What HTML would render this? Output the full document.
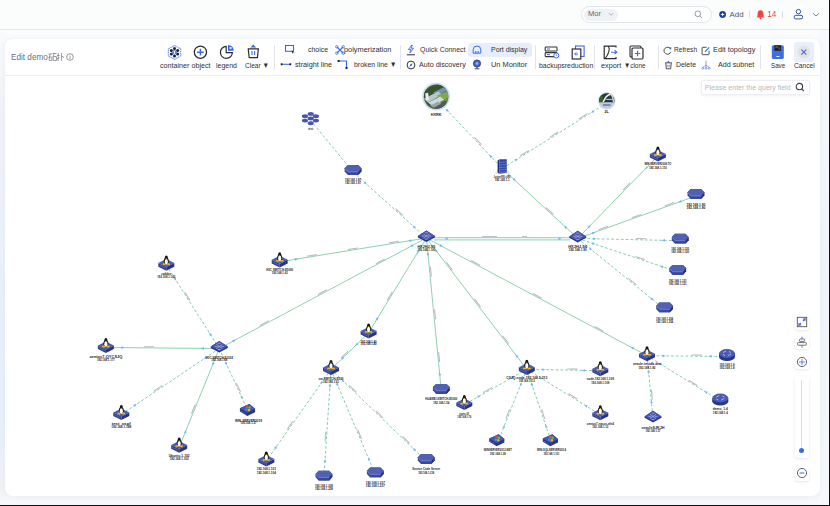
<!DOCTYPE html>
<html><head><meta charset="utf-8">
<style>
*{box-sizing:border-box}
html,body{margin:0;padding:0}
body{width:830px;height:506px;overflow:hidden;position:relative;background:linear-gradient(180deg,#fbfdfd 0px,#fafcfd 32px,#f6f9fb 50px,#eef3f9 120px,#eaf0f8 300px,#e8eff8 420px,#eef2f6 485px,#f6f8fa 505px);font-family:"Liberation Sans",sans-serif;color:#333}
.a{position:absolute}
.t{position:absolute;font-size:7px;line-height:8px;white-space:nowrap;color:#303030}
.sep{position:absolute;width:1px;background:#e3e5e8}
#hdr{position:absolute;left:0;top:0;width:830px;height:30px;background:#fbfdfd;border-bottom:1px solid #e3e7e8}
#card{position:absolute;left:5px;top:39px;width:815px;height:457px;background:#fff;border-radius:8px;box-shadow:0 0 6px rgba(30,60,110,0.05)}
#tb{position:absolute;left:0;top:0;width:815px;height:37px;border-bottom:1px solid #eceef1}
.btn{position:absolute;background:#fff;border-radius:3px;box-shadow:0 1px 3px rgba(0,0,0,0.10)}
</style></head><body>
<div id="hdr">
  <div class="a" style="left:581px;top:6px;width:131px;height:17px;border:1px solid #e1e4e8;border-radius:9px;background:#fff"></div>
  <div class="a" style="left:584px;top:9px;width:34px;height:12px;border-radius:6px;background:#eef1f5"></div>
  <div class="t" style="left:588px;top:10.2px;font-size:7.6px;color:#62666d">Mor</div>
  <svg class="a" style="left:607.5px;top:12px" width="6" height="5"><path d="M1,1.2 L3,3.2 L5,1.2" stroke="#9aa0a8" stroke-width="0.8" fill="none"/></svg>
  <svg class="a" style="left:694px;top:10px" width="9" height="9"><circle cx="3.8" cy="3.8" r="2.8" stroke="#8a8f96" stroke-width="0.9" fill="none"/><path d="M5.9,5.9 L8,8" stroke="#8a8f96" stroke-width="0.9"/></svg>
  <svg class="a" style="left:718px;top:10px" width="9" height="9"><circle cx="4.6" cy="4.5" r="3.4" fill="#1b3fae"/><path d="M2.9,4.5 H6.3 M4.6,2.8 V6.2" stroke="#fff" stroke-width="0.9"/></svg>
  <div class="t" style="left:729.5px;top:10.5px;font-size:7.9px;color:#55595f">Add</div>
  <div class="sep" style="left:749px;top:11px;height:7px;background:#dcdfe3"></div>
  <svg class="a" style="left:755px;top:9px" width="11" height="11"><path d="M5.5,1.2 C3.2,1.2 2.6,3.2 2.6,5 L2.4,7.6 L1.4,8.6 H9.6 L8.6,7.6 L8.4,5 C8.4,3.2 7.8,1.2 5.5,1.2 Z" fill="#f2433c"/><circle cx="5.5" cy="9.3" r="1" fill="#f2433c"/></svg>
  <div class="t" style="left:767.3px;top:11px;font-size:8.2px;color:#f2433c">14</div>
  <div class="sep" style="left:782px;top:11px;height:7px;background:#dcdfe3"></div>
  <div class="a" style="left:789.5px;top:5.8px;width:17.5px;height:17.5px;border-radius:50%;background:#fff"></div>
  <svg class="a" style="left:792px;top:8px" width="13" height="13"><circle cx="6.4" cy="3.6" r="2.2" stroke="#2a4ec2" stroke-width="1" fill="none"/><rect x="2.2" y="7.3" width="8.4" height="3.6" rx="1.6" stroke="#2a4ec2" stroke-width="1" fill="none"/></svg>
  <svg class="a" style="left:812px;top:12px" width="8" height="6"><path d="M1,1.3 L4,4 L7,1.3" stroke="#777" stroke-width="0.9" fill="none"/></svg>
</div>

<div class="a" style="left:819px;top:30px;width:10px;height:475px;background:linear-gradient(180deg,#f7f9fb 0px,#f3f6fb 110px,#eff4fb 240px,#f2f6fa 380px,#f6f8fa 475px)"></div>
<div id="card">
 <div id="tb"></div>
</div>

<!-- toolbar (page coordinates) -->
<div class="t" style="left:11px;top:51.5px;font-size:9.5px;line-height:10px;color:#6b6f76;transform:scaleX(0.86);transform-origin:0 0">Edit demo</div>
<svg class="a" style="left:47.8px;top:52px" width="28" height="10">
 <g stroke="#6a6e75" stroke-width="0.7" fill="none">
  <path d="M0.5,2 H4 M2.2,2 L1,6 M1.2,5 H3.8 V8.5 H1.2 Z M4.6,1.5 H8.6 M6.2,1.5 L5,4.5 M5.2,4.5 H8.4 V8.6 H5.2 Z"/>
  <path d="M10.2,1 V9 M9,3.5 H11.6 M9,7 L11.6,5.6 M13.6,1 V9 M13.6,4 L16,5.5"/>
 </g>
 <circle cx="22" cy="5" r="3.3" stroke="#6a6e75" stroke-width="0.7" fill="none"/>
 <path d="M22,4.2 V7 M22,2.9 V3.5" stroke="#6a6e75" stroke-width="0.7"/>
</svg>

<!-- big icons group 1 -->
<svg class="a" style="left:166px;top:43.5px" width="17" height="17">
 <path d="M8.5,1.4 L14.6,4.9 L14.6,11.9 L8.5,15.4 L2.4,11.9 L2.4,4.9 Z" stroke="#7fa2ee" stroke-width="1.3" fill="none" stroke-dasharray="1.6 0.6"/>
 <g fill="#1f2126"><circle cx="8.5" cy="4.6" r="1.5"/><circle cx="11.6" cy="6.5" r="1.5"/><circle cx="11.6" cy="10.1" r="1.5"/><circle cx="8.5" cy="12" r="1.5"/><circle cx="5.4" cy="10.1" r="1.5"/><circle cx="5.4" cy="6.5" r="1.5"/></g>
 <circle cx="8.5" cy="8.3" r="2.4" fill="#4f7fe6"/>
 <rect x="7.9" y="6.9" width="1.2" height="2.8" fill="#fff"/>
</svg>
<svg class="a" style="left:193px;top:44.5px" width="15" height="15"><circle cx="7.4" cy="7.2" r="6.1" stroke="#2b2d33" stroke-width="1.3" fill="none"/><path d="M4,7.2 H10.8 M7.4,3.8 V10.6" stroke="#3b6ae8" stroke-width="1.5"/></svg>
<svg class="a" style="left:219px;top:44px" width="16" height="16"><path d="M7.2,2.4 A6,6 0 1 0 13.4,8.6 L7.2,8.6 Z" stroke="#2b2d33" stroke-width="1.2" fill="none"/><path d="M9,0.9 A5.8,5.8 0 0 1 14.8,6.7 L9,6.7 Z" fill="#3b6ae8"/><rect x="10.6" y="3.2" width="2" height="1.6" fill="#fff"/></svg>
<svg class="a" style="left:246px;top:44px" width="15" height="15"><path d="M2.2,4.8 H12.4 L11.4,13.6 H3.2 Z" stroke="#2b2d33" stroke-width="1.2" fill="none" stroke-linejoin="round"/><path d="M4.4,3.6 L7.3,0.6 L10.2,3.6 Z" fill="#3b6ae8"/><path d="M6,7 V11 M8.6,7 V11" stroke="#3b6ae8" stroke-width="1.1"/></svg>
<div class="t" style="left:159.7px;top:61.5px;font-size:7.9px;transform:scaleX(0.9071);transform-origin:0 0">container object</div>
<div class="t" style="left:216px;top:61.5px;font-size:7.9px;transform:scaleX(0.8852);transform-origin:0 0">legend</div>
<div class="t" style="left:245px;top:61.8px;font-size:7.9px;transform:scaleX(0.8305);transform-origin:0 0">Clear ▼</div>
<div class="sep" style="left:274px;top:45px;height:24px"></div>

<!-- group 2 -->
<svg class="a" style="left:284px;top:44px" width="12" height="11"><rect x="1.5" y="1.5" width="8" height="5.8" stroke="#3b6ae8" stroke-width="1.1" fill="none"/><path d="M7.6,6.4 L10.6,8.2 L9,8.6 L8.6,10 Z" fill="#222"/></svg>
<div class="t" style="left:308px;top:45.5px;font-size:7.9px;transform:scaleX(0.8757);transform-origin:0 0">choice</div>
<svg class="a" style="left:335px;top:44.5px" width="10" height="10"><path d="M2,2 L8,8 M8,2 L2,8" stroke="#3b6ae8" stroke-width="1.1"/><g fill="none" stroke="#3b6ae8" stroke-width="0.8"><circle cx="1.8" cy="1.8" r="1.2"/><circle cx="8.2" cy="1.8" r="1.2"/><circle cx="1.8" cy="8.2" r="1.2"/><circle cx="8.2" cy="8.2" r="1.2"/></g></svg>
<div class="t" style="left:344px;top:45.5px;font-size:7.9px;transform:scaleX(0.9325);transform-origin:0 0">polymerization</div>
<svg class="a" style="left:280px;top:60px" width="12" height="8"><path d="M1.5,4.3 H10" stroke="#3b6ae8" stroke-width="1.1"/><rect x="0.7" y="3.3" width="1.8" height="2" fill="#222"/><rect x="9.4" y="3.3" width="1.8" height="2" fill="#222"/></svg>
<div class="t" style="left:295.3px;top:61.2px;font-size:7.9px;transform:scaleX(0.9183);transform-origin:0 0">straight line</div>
<svg class="a" style="left:337px;top:59px" width="12" height="11"><path d="M1.5,2 H9.5 V9" stroke="#3b6ae8" stroke-width="1.2" fill="none"/><rect x="0.6" y="1" width="2" height="2" fill="#222"/><rect x="8.5" y="8" width="2" height="2" fill="#222"/></svg>
<div class="t" style="left:353.8px;top:61.2px;font-size:7.9px;transform:scaleX(0.8773);transform-origin:0 0">broken line ▼</div>
<div class="sep" style="left:400px;top:45px;height:24px"></div>

<!-- group 3 -->
<svg class="a" style="left:406px;top:43.5px" width="10" height="12"><path d="M5.8,1 L2.4,5.6 H5 L3.8,9 L7.6,4.2 H5 L6.4,1 Z" stroke="#3b6ae8" stroke-width="0.9" fill="none" stroke-linejoin="round"/><path d="M0.8,10.8 H9" stroke="#333" stroke-width="1"/></svg>
<div class="t" style="left:420px;top:45.5px;font-size:7.9px;transform:scaleX(0.8781);transform-origin:0 0">Quick Connect</div>
<svg class="a" style="left:406px;top:59.5px" width="10" height="10"><circle cx="5" cy="5" r="3.9" stroke="#333" stroke-width="1" fill="none"/><path d="M6.8,3.2 L5.6,5.8 L3.2,6.8 L4.4,4.2 Z" fill="#3b6ae8"/></svg>
<div class="t" style="left:419px;top:61.2px;font-size:7.9px;transform:scaleX(0.9032);transform-origin:0 0">Auto discovery</div>
<div class="a" style="left:468px;top:42.5px;width:64px;height:14.5px;border-radius:3px;background:#e7eefb"></div>
<svg class="a" style="left:472px;top:44.5px" width="10" height="10"><path d="M1.2,8.2 V4.8 A3.8,3.8 0 0 1 8.8,4.8 V8.2 Z" stroke="#3b6ae8" stroke-width="1" fill="none"/><path d="M3.5,8 V6 M5,8 V6 M6.5,8 V6" stroke="#3b6ae8" stroke-width="0.7"/></svg>
<div class="t" style="left:490.6px;top:45.5px;font-size:7.9px;transform:scaleX(0.8818);transform-origin:0 0">Port display</div>
<svg class="a" style="left:472px;top:59px" width="10" height="11"><circle cx="5" cy="4.5" r="3.6" fill="#3b6ae8" stroke="#333" stroke-width="0.8"/><circle cx="5" cy="4.5" r="1.3" fill="#9cb6f2"/><path d="M5,8 V9.4 M2.6,9.8 H7.4" stroke="#333" stroke-width="0.9"/></svg>
<div class="t" style="left:490.8px;top:61.2px;font-size:7.9px;transform:scaleX(0.9369);transform-origin:0 0">Un Monitor</div>
<div class="sep" style="left:535px;top:45px;height:24px"></div>

<!-- group 4 -->
<svg class="a" style="left:544px;top:46px" width="16" height="13"><rect x="1.2" y="1" width="11.8" height="4" rx="0.8" stroke="#333" stroke-width="1.1" fill="none"/><rect x="1.2" y="6.6" width="11.8" height="4" rx="0.8" stroke="#333" stroke-width="1.1" fill="none"/><path d="M3,3 H6 M3,8.6 H6" stroke="#3b6ae8" stroke-width="1"/><circle cx="12.3" cy="9.5" r="2.5" fill="#fff" stroke="#3b6ae8" stroke-width="1"/><path d="M12.3,8.3 V9.6 H13.3" stroke="#3b6ae8" stroke-width="0.7" fill="none"/></svg>
<svg class="a" style="left:571px;top:44.5px" width="15" height="15"><rect x="4.5" y="1" width="8.6" height="10.4" stroke="#3b6ae8" stroke-width="1.1" fill="none"/><rect x="1.2" y="4" width="8.6" height="10" fill="#fff" stroke="#2b2d33" stroke-width="1.2"/><path d="M7,9 H3.8 M5.2,7.4 L3.6,9 L5.2,10.6" stroke="#3b6ae8" stroke-width="1" fill="none"/></svg>
<div class="t" style="left:538.8px;top:61.5px;font-size:7.9px;transform:scaleX(0.8784);transform-origin:0 0">backupsreduction</div>
<div class="sep" style="left:594px;top:45px;height:24px"></div>

<svg class="a" style="left:603px;top:44.5px" width="16" height="15"><path d="M13,2.5 V1.2 H1.2 V13.6 H13 V12" stroke="#2b2d33" stroke-width="1.2" fill="none"/><path d="M5.4,1.2 C7,4 6,9 2.2,13.4" stroke="#2b2d33" stroke-width="1.1" fill="none"/><path d="M8,7.2 H13.6 M11.6,5.2 L13.8,7.2 L11.6,9.2" stroke="#3b6ae8" stroke-width="1.1" fill="none"/></svg>
<svg class="a" style="left:629px;top:44.5px" width="16" height="15"><rect x="1" y="1" width="11" height="11" rx="1.2" stroke="#2b2d33" stroke-width="1.1" fill="none"/><rect x="3" y="3" width="11" height="11" rx="1.2" fill="#fff" stroke="#2b2d33" stroke-width="1.2"/><path d="M5.7,8.5 H11.3 M8.5,5.7 V11.3" stroke="#3b6ae8" stroke-width="1.2"/></svg>
<div class="t" style="left:600.8px;top:62.4px;font-size:7.9px;transform:scaleX(0.9198);transform-origin:0 0">export</div>
<div class="t" style="left:624px;top:62px;font-size:7.9px;transform:scaleX(0.8049);transform-origin:0 0">▼clone</div>
<div class="sep" style="left:658px;top:45px;height:24px"></div>

<!-- group 5 -->
<svg class="a" style="left:663px;top:45.5px" width="9" height="9"><path d="M7.4,2.8 A3.5,3.5 0 1 0 7.8,5.8" stroke="#3a3c42" stroke-width="0.9" fill="none"/><path d="M5.6,1.6 L8.4,1.2 L8,4 Z" fill="#3b6ae8"/></svg>
<div class="t" style="left:673.6px;top:45.7px;font-size:7.9px;transform:scaleX(0.8350);transform-origin:0 0">Refresh</div>
<svg class="a" style="left:700.5px;top:45.5px" width="10" height="10"><path d="M5.6,1.3 H1.6 A0.5,0.5 0 0 0 1.1,1.8 V8.2 A0.5,0.5 0 0 0 1.6,8.7 H7.6 A0.5,0.5 0 0 0 8.1,8.2 V4.6" stroke="#3a3c42" stroke-width="0.9" fill="none"/><path d="M4,5.8 L8.2,1.4" stroke="#3b6ae8" stroke-width="1.2"/></svg>
<div class="t" style="left:713.4px;top:45.7px;font-size:7.9px;transform:scaleX(0.9281);transform-origin:0 0">Edit topology</div>
<svg class="a" style="left:664px;top:60px" width="9" height="10"><path d="M3,2.4 L4.5,0.8 L6,2.4 Z" fill="#3b6ae8"/><path d="M1.2,2.8 H7.8 M1.8,3 L2.3,8.8 H6.7 L7.2,3" stroke="#3a3c42" stroke-width="0.9" fill="none"/><path d="M3.8,4.8 V7.2 M5.2,4.8 V7.2" stroke="#3b6ae8" stroke-width="0.7"/></svg>
<div class="t" style="left:675.7px;top:61.2px;font-size:7.9px;transform:scaleX(0.8757);transform-origin:0 0">Delete</div>
<svg class="a" style="left:701px;top:59.5px" width="10" height="10"><path d="M5,0.6 V5 M5,5 L1.8,7.4 M5,5 L8.2,7.4 M5,5 V7.4" stroke="#6d7fb8" stroke-width="0.7" fill="none"/><circle cx="1.8" cy="8.3" r="0.9" stroke="#3b6ae8" stroke-width="0.6" fill="none"/><circle cx="5" cy="8.3" r="0.9" stroke="#3b6ae8" stroke-width="0.6" fill="none"/><circle cx="8.2" cy="8.3" r="0.9" stroke="#3b6ae8" stroke-width="0.6" fill="none"/></svg>
<div class="t" style="left:717.8px;top:61.2px;font-size:7.9px;transform:scaleX(0.9054);transform-origin:0 0">Add subnet</div>
<div class="sep" style="left:760px;top:45px;height:24px"></div>

<!-- save / cancel -->
<svg class="a" style="left:771px;top:44.8px" width="14" height="15"><rect x="0.8" y="0.2" width="12" height="13.8" rx="1.6" fill="#3e6ee6"/><rect x="3.4" y="0.2" width="6.6" height="5.6" fill="#1e222b"/><rect x="4.4" y="1.2" width="3" height="1.6" fill="#5a5e66"/><rect x="7.6" y="2.6" width="1.6" height="1.8" fill="#5a5e66"/><rect x="5.4" y="11" width="3" height="0.9" fill="#fff"/></svg>
<div class="t" style="left:770.5px;top:62.2px;font-size:7.9px;transform:scaleX(0.7884);transform-origin:0 0">Save</div>
<div class="a" style="left:794.2px;top:42px;width:19.5px;height:19.5px;border-radius:3px;background:#e8effb"></div>
<svg class="a" style="left:797px;top:45px" width="14" height="14"><circle cx="6.8" cy="7.1" r="6.4" fill="#e1e3e7"/><path d="M4.3,4.6 L9.3,9.6 M9.3,4.6 L4.3,9.6" stroke="#3b6ae8" stroke-width="1.1"/></svg>
<div class="t" style="left:793.5px;top:62.2px;font-size:7.9px;transform:scaleX(0.8414);transform-origin:0 0">Cancel</div>

<!-- query -->
<div class="a" style="left:700.5px;top:80px;width:109px;height:14.5px;border:1px solid #eceef1;border-radius:2px;background:#fff;box-shadow:0 1px 3px rgba(0,0,0,0.06)"></div>
<div class="t" style="left:704.8px;top:83.5px;font-size:7.06px;color:#b5b8bd">Please enter the query field</div>
<svg class="a" style="left:795px;top:82px" width="10" height="10"><circle cx="4.4" cy="4.6" r="3.2" stroke="#3a3d44" stroke-width="1.1" fill="none"/><path d="M6.6,6.8 L8.8,9" stroke="#3a3d44" stroke-width="1.1"/></svg>

<svg width="830" height="506" style="position:absolute;left:0;top:0" font-family="'Liberation Sans', sans-serif">
<g><line x1="436.1" y1="98.6" x2="502.2" y2="168.5" stroke="#84d0a9" stroke-width="1" stroke-dasharray="2.8 2"/>
<path d="M-1.6,-1.3 L1.6,0 L-1.6,1.3 Z" fill="#6cb8f0" transform="translate(447.8,111.0) rotate(46.6)"/>
<path d="M-1.6,-1.3 L1.6,0 L-1.6,1.3 Z" fill="#6cb8f0" transform="translate(490.5,156.1) rotate(226.6)"/>
<rect x="-5" y="-1.7" width="10" height="1.1" fill="#bdb9c6" transform="translate(477.1,141.9) rotate(46.6)"/>
<line x1="606.7" y1="102.9" x2="502.2" y2="168.5" stroke="#84d0a9" stroke-width="1" stroke-dasharray="2.8 2"/>
<path d="M-1.6,-1.3 L1.6,0 L-1.6,1.3 Z" fill="#6cb8f0" transform="translate(592.3,111.9) rotate(147.9)"/>
<path d="M-1.6,-1.3 L1.6,0 L-1.6,1.3 Z" fill="#6cb8f0" transform="translate(516.6,159.5) rotate(327.9)"/>
<rect x="-5" y="-1.7" width="10" height="1.1" fill="#bdb9c6" transform="translate(583.7,117.3) rotate(327.9)"/>
<rect x="-5" y="-1.7" width="10" height="1.1" fill="#bdb9c6" transform="translate(554.5,135.7) rotate(327.9)"/>
<rect x="-5" y="-1.7" width="10" height="1.1" fill="#bdb9c6" transform="translate(525.2,154.1) rotate(327.9)"/>
<line x1="310.7" y1="120.5" x2="353.0" y2="172.0" stroke="#84d0a9" stroke-width="1" stroke-dasharray="2.8 2"/>
<line x1="353.0" y1="172.0" x2="426.4" y2="238.0" stroke="#84d0a9" stroke-width="1" stroke-dasharray="2.8 2"/>
<path d="M-1.6,-1.3 L1.6,0 L-1.6,1.3 Z" fill="#6cb8f0" transform="translate(365.6,183.4) rotate(42.0)"/>
<path d="M-1.6,-1.3 L1.6,0 L-1.6,1.3 Z" fill="#6cb8f0" transform="translate(413.8,226.6) rotate(222.0)"/>
<rect x="-5" y="-1.7" width="10" height="1.1" fill="#bdb9c6" transform="translate(398.5,212.9) rotate(42.0)"/>
<line x1="502.2" y1="168.5" x2="577.7" y2="238.4" stroke="#8dd3ad" stroke-width="1"/>
<path d="M-1.6,-1.3 L1.6,0 L-1.6,1.3 Z" fill="#6cb8f0" transform="translate(514.7,180.0) rotate(42.8)"/>
<path d="M-1.6,-1.3 L1.6,0 L-1.6,1.3 Z" fill="#6cb8f0" transform="translate(565.2,226.9) rotate(222.8)"/>
<rect x="-5" y="-1.7" width="10" height="1.1" fill="#bdb9c6" transform="translate(549.0,211.8) rotate(42.8)"/>
<line x1="577.7" y1="238.4" x2="657.9" y2="156.0" stroke="#8dd3ad" stroke-width="1"/>
<path d="M-1.6,-1.3 L1.6,0 L-1.6,1.3 Z" fill="#6cb8f0" transform="translate(589.6,226.2) rotate(-45.8)"/>
<path d="M-1.6,-1.3 L1.6,0 L-1.6,1.3 Z" fill="#6cb8f0" transform="translate(646.0,168.2) rotate(134.2)"/>
<rect x="-5" y="-1.7" width="10" height="1.1" fill="#bdb9c6" transform="translate(627.4,187.3) rotate(-45.8)"/>
<line x1="577.7" y1="238.4" x2="695.9" y2="196.0" stroke="#8dd3ad" stroke-width="1"/>
<path d="M-1.6,-1.3 L1.6,0 L-1.6,1.3 Z" fill="#6cb8f0" transform="translate(593.7,232.7) rotate(-19.7)"/>
<path d="M-1.6,-1.3 L1.6,0 L-1.6,1.3 Z" fill="#6cb8f0" transform="translate(679.9,201.7) rotate(160.3)"/>
<rect x="-5" y="-1.7" width="10" height="1.1" fill="#bdb9c6" transform="translate(603.7,229.1) rotate(-19.7)"/>
<rect x="-5" y="-1.7" width="10" height="1.1" fill="#bdb9c6" transform="translate(636.8,217.2) rotate(-19.7)"/>
<rect x="-5" y="-1.7" width="10" height="1.1" fill="#bdb9c6" transform="translate(669.9,205.3) rotate(-19.7)"/>
<line x1="577.7" y1="238.4" x2="680.2" y2="240.7" stroke="#84d0a9" stroke-width="1" stroke-dasharray="2.8 2"/>
<path d="M-1.6,-1.3 L1.6,0 L-1.6,1.3 Z" fill="#6cb8f0" transform="translate(594.7,238.8) rotate(1.3)"/>
<path d="M-1.6,-1.3 L1.6,0 L-1.6,1.3 Z" fill="#6cb8f0" transform="translate(663.2,240.3) rotate(181.3)"/>
<rect x="-5" y="-1.7" width="10" height="1.1" fill="#bdb9c6" transform="translate(641.2,239.8) rotate(1.3)"/>
<line x1="577.7" y1="238.4" x2="677.7" y2="271.8" stroke="#84d0a9" stroke-width="1" stroke-dasharray="2.8 2"/>
<path d="M-1.6,-1.3 L1.6,0 L-1.6,1.3 Z" fill="#6cb8f0" transform="translate(593.8,243.8) rotate(18.5)"/>
<path d="M-1.6,-1.3 L1.6,0 L-1.6,1.3 Z" fill="#6cb8f0" transform="translate(661.6,266.4) rotate(198.5)"/>
<rect x="-5" y="-1.7" width="10" height="1.1" fill="#bdb9c6" transform="translate(639.7,259.1) rotate(18.5)"/>
<line x1="577.7" y1="238.4" x2="664.6" y2="309.4" stroke="#84d0a9" stroke-width="1" stroke-dasharray="2.8 2"/>
<path d="M-1.6,-1.3 L1.6,0 L-1.6,1.3 Z" fill="#6cb8f0" transform="translate(590.9,249.2) rotate(39.2)"/>
<path d="M-1.6,-1.3 L1.6,0 L-1.6,1.3 Z" fill="#6cb8f0" transform="translate(651.4,298.6) rotate(219.2)"/>
<rect x="-5" y="-1.7" width="10" height="1.1" fill="#bdb9c6" transform="translate(631.6,282.4) rotate(39.2)"/>
<line x1="426.4" y1="238.0" x2="279.7" y2="261.8" stroke="#8dd3ad" stroke-width="1"/>
<path d="M-1.6,-1.3 L1.6,0 L-1.6,1.3 Z" fill="#6cb8f0" transform="translate(409.6,240.7) rotate(170.8)"/>
<path d="M-1.6,-1.3 L1.6,0 L-1.6,1.3 Z" fill="#6cb8f0" transform="translate(296.5,259.1) rotate(350.8)"/>
<rect x="-5" y="-1.7" width="10" height="1.1" fill="#bdb9c6" transform="translate(394.1,243.2) rotate(350.8)"/>
<rect x="-5" y="-1.7" width="10" height="1.1" fill="#bdb9c6" transform="translate(353.0,249.9) rotate(350.8)"/>
<rect x="-5" y="-1.7" width="10" height="1.1" fill="#bdb9c6" transform="translate(312.0,256.6) rotate(350.8)"/>
<line x1="426.4" y1="238.0" x2="219.3" y2="348.5" stroke="#8dd3ad" stroke-width="1"/>
<path d="M-1.6,-1.3 L1.6,0 L-1.6,1.3 Z" fill="#6cb8f0" transform="translate(411.4,246.0) rotate(151.9)"/>
<path d="M-1.6,-1.3 L1.6,0 L-1.6,1.3 Z" fill="#6cb8f0" transform="translate(234.3,340.5) rotate(331.9)"/>
<rect x="-5" y="-1.7" width="10" height="1.1" fill="#bdb9c6" transform="translate(380.8,262.3) rotate(331.9)"/>
<rect x="-5" y="-1.7" width="10" height="1.1" fill="#bdb9c6" transform="translate(322.9,293.2) rotate(331.9)"/>
<rect x="-5" y="-1.7" width="10" height="1.1" fill="#bdb9c6" transform="translate(264.9,324.2) rotate(331.9)"/>
<line x1="426.4" y1="238.0" x2="368.6" y2="332.9" stroke="#8dd3ad" stroke-width="1"/>
<path d="M-1.6,-1.3 L1.6,0 L-1.6,1.3 Z" fill="#6cb8f0" transform="translate(417.6,252.5) rotate(121.3)"/>
<path d="M-1.6,-1.3 L1.6,0 L-1.6,1.3 Z" fill="#6cb8f0" transform="translate(377.4,318.4) rotate(301.3)"/>
<rect x="-5" y="-1.7" width="10" height="1.1" fill="#bdb9c6" transform="translate(390.6,296.8) rotate(301.3)"/>
<line x1="426.4" y1="238.0" x2="441.3" y2="390.8" stroke="#8dd3ad" stroke-width="1"/>
<path d="M-1.6,-1.3 L1.6,0 L-1.6,1.3 Z" fill="#6cb8f0" transform="translate(428.0,254.9) rotate(84.4)"/>
<path d="M-1.6,-1.3 L1.6,0 L-1.6,1.3 Z" fill="#6cb8f0" transform="translate(439.7,373.9) rotate(264.4)"/>
<rect x="-5" y="-1.7" width="10" height="1.1" fill="#bdb9c6" transform="translate(429.7,271.6) rotate(84.4)"/>
<rect x="-5" y="-1.7" width="10" height="1.1" fill="#bdb9c6" transform="translate(433.9,314.4) rotate(84.4)"/>
<rect x="-5" y="-1.7" width="10" height="1.1" fill="#bdb9c6" transform="translate(438.0,357.2) rotate(84.4)"/>
<line x1="426.4" y1="238.0" x2="526.8" y2="369.3" stroke="#8dd3ad" stroke-width="1"/>
<path d="M-1.6,-1.3 L1.6,0 L-1.6,1.3 Z" fill="#6cb8f0" transform="translate(436.7,251.5) rotate(52.6)"/>
<path d="M-1.6,-1.3 L1.6,0 L-1.6,1.3 Z" fill="#6cb8f0" transform="translate(516.5,355.8) rotate(232.6)"/>
<rect x="-5" y="-1.7" width="10" height="1.1" fill="#bdb9c6" transform="translate(448.5,266.9) rotate(52.6)"/>
<rect x="-5" y="-1.7" width="10" height="1.1" fill="#bdb9c6" transform="translate(476.6,303.6) rotate(52.6)"/>
<rect x="-5" y="-1.7" width="10" height="1.1" fill="#bdb9c6" transform="translate(504.7,340.4) rotate(52.6)"/>
<line x1="426.4" y1="238.0" x2="647.0" y2="355.7" stroke="#8dd3ad" stroke-width="1"/>
<path d="M-1.6,-1.3 L1.6,0 L-1.6,1.3 Z" fill="#6cb8f0" transform="translate(441.4,246.0) rotate(28.1)"/>
<path d="M-1.6,-1.3 L1.6,0 L-1.6,1.3 Z" fill="#6cb8f0" transform="translate(632.0,347.7) rotate(208.1)"/>
<rect x="-5" y="-1.7" width="10" height="1.1" fill="#bdb9c6" transform="translate(474.9,263.9) rotate(28.1)"/>
<rect x="-5" y="-1.7" width="10" height="1.1" fill="#bdb9c6" transform="translate(536.7,296.9) rotate(28.1)"/>
<rect x="-5" y="-1.7" width="10" height="1.1" fill="#bdb9c6" transform="translate(598.5,329.8) rotate(28.1)"/>
<line x1="368.6" y1="332.9" x2="331.0" y2="369.4" stroke="#8dd3ad" stroke-width="1"/>
<path d="M-1.6,-1.3 L1.6,0 L-1.6,1.3 Z" fill="#6cb8f0" transform="translate(356.4,344.7) rotate(135.9)"/>
<path d="M-1.6,-1.3 L1.6,0 L-1.6,1.3 Z" fill="#6cb8f0" transform="translate(343.2,357.6) rotate(315.9)"/>
<rect x="-5" y="-1.7" width="10" height="1.1" fill="#bdb9c6" transform="translate(345.3,355.5) rotate(315.9)"/>
<line x1="219.3" y1="348.5" x2="105.9" y2="347.5" stroke="#8dd3ad" stroke-width="1"/>
<path d="M-1.6,-1.3 L1.6,0 L-1.6,1.3 Z" fill="#6cb8f0" transform="translate(202.3,348.4) rotate(-179.5)"/>
<path d="M-1.6,-1.3 L1.6,0 L-1.6,1.3 Z" fill="#6cb8f0" transform="translate(122.9,347.6) rotate(0.5)"/>
<rect x="-5" y="-1.7" width="10" height="1.1" fill="#bdb9c6" transform="translate(149.0,347.9) rotate(0.5)"/>
<line x1="219.3" y1="348.5" x2="166.3" y2="265.1" stroke="#84d0a9" stroke-width="1" stroke-dasharray="2.8 2"/>
<path d="M-1.6,-1.3 L1.6,0 L-1.6,1.3 Z" fill="#6cb8f0" transform="translate(210.2,334.2) rotate(-122.4)"/>
<path d="M-1.6,-1.3 L1.6,0 L-1.6,1.3 Z" fill="#6cb8f0" transform="translate(175.4,279.4) rotate(57.6)"/>
<rect x="-5" y="-1.7" width="10" height="1.1" fill="#bdb9c6" transform="translate(186.4,296.8) rotate(57.6)"/>
<line x1="219.3" y1="348.5" x2="121.3" y2="414.5" stroke="#84d0a9" stroke-width="1" stroke-dasharray="2.8 2"/>
<path d="M-1.6,-1.3 L1.6,0 L-1.6,1.3 Z" fill="#6cb8f0" transform="translate(205.2,358.0) rotate(146.0)"/>
<path d="M-1.6,-1.3 L1.6,0 L-1.6,1.3 Z" fill="#6cb8f0" transform="translate(135.4,405.0) rotate(326.0)"/>
<rect x="-5" y="-1.7" width="10" height="1.1" fill="#bdb9c6" transform="translate(158.5,389.4) rotate(326.0)"/>
<line x1="219.3" y1="348.5" x2="179.2" y2="447.1" stroke="#8dd3ad" stroke-width="1"/>
<path d="M-1.6,-1.3 L1.6,0 L-1.6,1.3 Z" fill="#6cb8f0" transform="translate(212.9,364.2) rotate(112.1)"/>
<path d="M-1.6,-1.3 L1.6,0 L-1.6,1.3 Z" fill="#6cb8f0" transform="translate(185.6,431.4) rotate(292.1)"/>
<rect x="-5" y="-1.7" width="10" height="1.1" fill="#bdb9c6" transform="translate(194.4,409.6) rotate(292.1)"/>
<line x1="219.3" y1="348.5" x2="248.5" y2="412.0" stroke="#84d0a9" stroke-width="1" stroke-dasharray="2.8 2"/>
<path d="M-1.6,-1.3 L1.6,0 L-1.6,1.3 Z" fill="#6cb8f0" transform="translate(226.4,363.9) rotate(65.3)"/>
<path d="M-1.6,-1.3 L1.6,0 L-1.6,1.3 Z" fill="#6cb8f0" transform="translate(241.4,396.6) rotate(245.3)"/>
<rect x="-5" y="-1.7" width="10" height="1.1" fill="#bdb9c6" transform="translate(237.4,387.9) rotate(65.3)"/>
<line x1="331.0" y1="369.4" x2="266.3" y2="460.9" stroke="#84d0a9" stroke-width="1" stroke-dasharray="2.8 2"/>
<path d="M-1.6,-1.3 L1.6,0 L-1.6,1.3 Z" fill="#6cb8f0" transform="translate(321.2,383.3) rotate(125.3)"/>
<path d="M-1.6,-1.3 L1.6,0 L-1.6,1.3 Z" fill="#6cb8f0" transform="translate(276.1,447.0) rotate(305.3)"/>
<rect x="-5" y="-1.7" width="10" height="1.1" fill="#bdb9c6" transform="translate(290.9,426.1) rotate(305.3)"/>
<line x1="331.0" y1="369.4" x2="323.9" y2="477.6" stroke="#84d0a9" stroke-width="1" stroke-dasharray="2.8 2"/>
<path d="M-1.6,-1.3 L1.6,0 L-1.6,1.3 Z" fill="#6cb8f0" transform="translate(329.9,386.4) rotate(93.8)"/>
<path d="M-1.6,-1.3 L1.6,0 L-1.6,1.3 Z" fill="#6cb8f0" transform="translate(325.0,460.6) rotate(273.8)"/>
<rect x="-5" y="-1.7" width="10" height="1.1" fill="#bdb9c6" transform="translate(326.6,436.5) rotate(273.8)"/>
<line x1="331.0" y1="369.4" x2="375.3" y2="474.5" stroke="#84d0a9" stroke-width="1" stroke-dasharray="2.8 2"/>
<path d="M-1.6,-1.3 L1.6,0 L-1.6,1.3 Z" fill="#6cb8f0" transform="translate(337.6,385.1) rotate(67.1)"/>
<path d="M-1.6,-1.3 L1.6,0 L-1.6,1.3 Z" fill="#6cb8f0" transform="translate(368.7,458.8) rotate(247.1)"/>
<rect x="-5" y="-1.7" width="10" height="1.1" fill="#bdb9c6" transform="translate(358.5,434.6) rotate(67.1)"/>
<line x1="331.0" y1="369.4" x2="426.2" y2="461.0" stroke="#84d0a9" stroke-width="1" stroke-dasharray="2.8 2"/>
<path d="M-1.6,-1.3 L1.6,0 L-1.6,1.3 Z" fill="#6cb8f0" transform="translate(343.3,381.2) rotate(43.9)"/>
<path d="M-1.6,-1.3 L1.6,0 L-1.6,1.3 Z" fill="#6cb8f0" transform="translate(413.9,449.2) rotate(223.9)"/>
<rect x="-5" y="-1.7" width="10" height="1.1" fill="#bdb9c6" transform="translate(351.9,389.6) rotate(43.9)"/>
<rect x="-5" y="-1.7" width="10" height="1.1" fill="#bdb9c6" transform="translate(378.6,415.2) rotate(43.9)"/>
<rect x="-5" y="-1.7" width="10" height="1.1" fill="#bdb9c6" transform="translate(405.3,440.8) rotate(43.9)"/>
<line x1="526.8" y1="369.3" x2="464.3" y2="404.5" stroke="#84d0a9" stroke-width="1" stroke-dasharray="2.8 2"/>
<path d="M-1.6,-1.3 L1.6,0 L-1.6,1.3 Z" fill="#6cb8f0" transform="translate(512.0,377.6) rotate(150.6)"/>
<path d="M-1.6,-1.3 L1.6,0 L-1.6,1.3 Z" fill="#6cb8f0" transform="translate(479.1,396.2) rotate(330.6)"/>
<rect x="-5" y="-1.7" width="10" height="1.1" fill="#bdb9c6" transform="translate(488.1,391.1) rotate(330.6)"/>
<line x1="526.8" y1="369.3" x2="600.3" y2="370.7" stroke="#84d0a9" stroke-width="1" stroke-dasharray="2.8 2"/>
<path d="M-1.6,-1.3 L1.6,0 L-1.6,1.3 Z" fill="#6cb8f0" transform="translate(543.8,369.6) rotate(1.1)"/>
<path d="M-1.6,-1.3 L1.6,0 L-1.6,1.3 Z" fill="#6cb8f0" transform="translate(583.3,370.4) rotate(181.1)"/>
<rect x="-5" y="-1.7" width="10" height="1.1" fill="#bdb9c6" transform="translate(572.4,370.2) rotate(1.1)"/>
<line x1="526.8" y1="369.3" x2="600.3" y2="414.7" stroke="#84d0a9" stroke-width="1" stroke-dasharray="2.8 2"/>
<path d="M-1.6,-1.3 L1.6,0 L-1.6,1.3 Z" fill="#6cb8f0" transform="translate(541.3,378.2) rotate(31.7)"/>
<path d="M-1.6,-1.3 L1.6,0 L-1.6,1.3 Z" fill="#6cb8f0" transform="translate(585.8,405.8) rotate(211.7)"/>
<rect x="-5" y="-1.7" width="10" height="1.1" fill="#bdb9c6" transform="translate(572.4,397.4) rotate(31.7)"/>
<line x1="526.8" y1="369.3" x2="497.8" y2="442.2" stroke="#84d0a9" stroke-width="1" stroke-dasharray="2.8 2"/>
<path d="M-1.6,-1.3 L1.6,0 L-1.6,1.3 Z" fill="#6cb8f0" transform="translate(520.5,385.1) rotate(111.7)"/>
<path d="M-1.6,-1.3 L1.6,0 L-1.6,1.3 Z" fill="#6cb8f0" transform="translate(504.1,426.4) rotate(291.7)"/>
<rect x="-5" y="-1.7" width="10" height="1.1" fill="#bdb9c6" transform="translate(508.8,414.5) rotate(291.7)"/>
<line x1="526.8" y1="369.3" x2="551.4" y2="442.2" stroke="#84d0a9" stroke-width="1" stroke-dasharray="2.8 2"/>
<path d="M-1.6,-1.3 L1.6,0 L-1.6,1.3 Z" fill="#6cb8f0" transform="translate(532.2,385.4) rotate(71.4)"/>
<path d="M-1.6,-1.3 L1.6,0 L-1.6,1.3 Z" fill="#6cb8f0" transform="translate(546.0,426.1) rotate(251.4)"/>
<rect x="-5" y="-1.7" width="10" height="1.1" fill="#bdb9c6" transform="translate(542.1,414.5) rotate(71.4)"/>
<line x1="647.0" y1="355.7" x2="727.0" y2="356.5" stroke="#84d0a9" stroke-width="1" stroke-dasharray="2.8 2"/>
<path d="M-1.6,-1.3 L1.6,0 L-1.6,1.3 Z" fill="#6cb8f0" transform="translate(664.0,355.9) rotate(0.6)"/>
<path d="M-1.6,-1.3 L1.6,0 L-1.6,1.3 Z" fill="#6cb8f0" transform="translate(710.0,356.3) rotate(180.6)"/>
<rect x="-5" y="-1.7" width="10" height="1.1" fill="#bdb9c6" transform="translate(696.6,356.2) rotate(0.6)"/>
<line x1="647.0" y1="355.7" x2="720.3" y2="401.0" stroke="#84d0a9" stroke-width="1" stroke-dasharray="2.8 2"/>
<path d="M-1.6,-1.3 L1.6,0 L-1.6,1.3 Z" fill="#6cb8f0" transform="translate(661.5,364.6) rotate(31.7)"/>
<path d="M-1.6,-1.3 L1.6,0 L-1.6,1.3 Z" fill="#6cb8f0" transform="translate(705.8,392.1) rotate(211.7)"/>
<rect x="-5" y="-1.7" width="10" height="1.1" fill="#bdb9c6" transform="translate(692.4,383.8) rotate(31.7)"/>
<line x1="647.0" y1="355.7" x2="653.0" y2="418.4" stroke="#84d0a9" stroke-width="1" stroke-dasharray="2.8 2"/>
<path d="M-1.6,-1.3 L1.6,0 L-1.6,1.3 Z" fill="#6cb8f0" transform="translate(648.6,372.6) rotate(84.5)"/>
<path d="M-1.6,-1.3 L1.6,0 L-1.6,1.3 Z" fill="#6cb8f0" transform="translate(651.4,401.5) rotate(264.5)"/>
<rect x="-5" y="-1.7" width="10" height="1.1" fill="#bdb9c6" transform="translate(650.7,394.6) rotate(84.5)"/>
<line x1="434" y1="237.7" x2="570" y2="237.7" stroke="#8dd3ad"/>
<line x1="434" y1="239.9" x2="570" y2="239.9" stroke="#8dd3ad"/>
<path d="M-1.6,-1.3 L1.6,0 L-1.6,1.3 Z" fill="#6cb8f0" transform="translate(446,238.8) rotate(180)"/>
<path d="M-1.6,-1.3 L1.6,0 L-1.6,1.3 Z" fill="#6cb8f0" transform="translate(560,238.8) rotate(0)"/>
<rect x="482" y="236" width="15" height="1" fill="#c4bfcc"/><rect x="522" y="236" width="5" height="1" fill="#c4bfcc"/></g>
<g><g transform="translate(436.1,96.6)">
  <circle r="13.9" fill="#c9dcf0"/>
  <circle r="12.2" fill="#425a3c"/>
  <path d="M-11.08,-5.11 L-10.84,-5.60 L-10.56,-6.12 L-10.22,-6.66 L-9.84,-7.22 L-9.14,-7.59 L-8.36,-7.91 L-7.59,-8.23 L-6.82,-8.55 L-6.05,-8.86 L-5.27,-9.18 L-4.50,-9.50 L-3.73,-9.82 L-2.95,-10.14 L-2.18,-10.45 L-1.41,-10.77 L-0.64,-11.09 L0.14,-11.41 L0.91,-11.73 L1.68,-12.05 L2.38,-11.97 L3.01,-11.82 L3.59,-11.66 L4.24,-11.44 L4.85,-11.19 L5.43,-10.93 L5.96,-10.65 L6.45,-10.36 L6.90,-10.06 L7.31,-9.77 L7.69,-9.47 L8.03,-9.19 L8.34,-8.90 L8.63,-8.63 L8.90,-8.35 L9.17,-8.04 L9.46,-7.71 L9.74,-7.34 L10.03,-6.94 L9.87,-7.17 L9.77,-7.31 L9.66,-7.46 L9.29,-7.43 L8.54,-7.11 L7.80,-6.80 L7.06,-6.49 L6.31,-6.17 L5.57,-5.86 L4.83,-5.54 L4.09,-5.23 L3.34,-4.91 L2.60,-4.60 L1.86,-4.29 L1.11,-3.97 L0.37,-3.66 L-0.37,-3.34 L-1.11,-3.03 L-1.86,-2.71 L-2.60,-2.40 L-3.34,-2.09 L-4.09,-1.77 L-4.83,-1.46 L-5.57,-1.14 L-6.31,-0.83 L-7.06,-0.51 L-7.80,-0.20 L-8.54,0.11 L-9.29,0.43 L-10.03,0.74 L-10.77,1.06 L-11.51,1.37 L-12.09,1.66 L-12.06,1.86 L-12.15,1.12 L-12.19,0.38 L-12.19,-0.38 L-12.15,-1.12 L-12.06,-1.86 L-11.93,-2.57 L-11.76,-3.26 L-11.56,-3.91 L-11.33,-4.53 Z" fill="#37522e"/>
  <path d="M-3.00,-4.00 L-2.25,-4.38 L-1.50,-4.75 L-0.75,-5.12 L0.00,-5.50 L0.75,-5.88 L1.50,-6.25 L2.25,-6.62 L3.00,-7.00 L3.75,-7.38 L4.50,-7.75 L5.25,-8.12 L6.00,-8.50 L6.75,-8.88 L7.50,-9.25 L7.94,-9.26 L8.16,-9.07 L8.70,-8.55 L9.20,-8.01 L9.65,-7.46 L10.06,-6.90 L10.42,-6.34 L10.74,-5.78 L10.00,-5.50 L9.25,-5.12 L8.50,-4.75 L7.75,-4.38 L7.00,-4.00 L6.25,-3.62 L5.50,-3.25 L4.75,-2.88 L4.00,-2.50 L3.25,-2.12 L2.50,-1.75 L1.75,-1.38 L1.00,-1.00 L0.33,-1.50 L-0.33,-2.00 L-1.00,-2.50 L-1.67,-3.00 L-2.33,-3.50 Z" fill="#6f93b4"/>
  <path d="M-12.00,2.00 L-11.26,1.63 L-10.53,1.26 L-9.79,0.89 L-9.05,0.53 L-8.32,0.16 L-7.58,-0.21 L-6.84,-0.58 L-6.11,-0.95 L-5.37,-1.32 L-4.63,-1.68 L-3.89,-2.05 L-3.16,-2.42 L-2.42,-2.79 L-1.68,-3.16 L-0.95,-3.53 L-0.21,-3.89 L0.53,-4.26 L1.26,-4.63 L2.00,-5.00 L2.67,-4.50 L3.33,-4.00 L4.00,-3.50 L4.67,-3.00 L5.33,-2.50 L6.00,-2.00 L5.30,-1.60 L4.60,-1.20 L3.90,-0.80 L3.20,-0.40 L2.50,0.00 L1.80,0.40 L1.10,0.80 L0.40,1.20 L-0.30,1.60 L-1.00,2.00 L-1.70,2.40 L-2.40,2.80 L-3.10,3.20 L-3.80,3.60 L-4.50,4.00 L-5.20,4.40 L-5.90,4.80 L-6.60,5.20 L-7.30,5.60 L-8.00,6.00 L-8.57,5.43 L-9.14,4.86 L-9.71,4.29 L-10.29,3.71 L-10.86,3.14 L-11.43,2.57 Z" fill="#b9c6cd"/>
  <path d="M-11.00,-3.00 L-10.00,-3.33 L-9.00,-3.67 L-8.00,-4.00 L-7.88,-3.12 L-7.75,-2.25 L-7.62,-1.38 L-7.50,-0.50 L-7.38,0.38 L-7.25,1.25 L-7.12,2.12 L-7.00,3.00 L-8.00,3.33 L-9.00,3.67 L-10.00,4.00 L-10.12,3.12 L-10.25,2.25 L-10.38,1.38 L-10.50,0.50 L-10.62,-0.38 L-10.75,-1.25 L-10.88,-2.12 Z" fill="#e6ecef"/>
  <path d="M1.00,-1.00 L1.73,-1.33 L2.47,-1.67 L3.20,-2.00 L3.93,-2.33 L4.67,-2.67 L5.40,-3.00 L6.13,-3.33 L6.87,-3.67 L7.60,-4.00 L8.33,-4.33 L9.07,-4.67 L9.80,-5.00 L10.53,-5.33 L10.90,-5.48 L11.24,-4.75 L11.53,-4.00 L11.77,-3.21 L11.96,-2.39 L12.10,-1.56 L12.18,-0.72 L12.20,0.12 L12.16,0.94 L12.13,1.32 L11.50,1.67 L10.75,2.00 L10.00,2.33 L9.25,2.67 L8.50,3.00 L7.75,3.33 L7.00,3.67 L6.25,4.00 L5.50,4.33 L4.75,4.67 L4.00,5.00 L3.62,4.25 L3.25,3.50 L2.88,2.75 L2.50,2.00 L2.12,1.25 L1.75,0.50 L1.38,-0.25 Z" fill="#82a84e"/>
  <path d="M-8.00,6.00 L-7.25,5.62 L-6.50,5.25 L-5.75,4.88 L-5.00,4.50 L-4.25,4.12 L-3.50,3.75 L-2.75,3.38 L-2.00,3.00 L-1.25,2.62 L-0.50,2.25 L0.25,1.88 L1.00,1.50 L1.75,1.12 L2.50,0.75 L3.25,0.38 L4.00,0.00 L4.62,0.50 L5.25,1.00 L5.88,1.50 L6.50,2.00 L7.12,2.50 L7.75,3.00 L8.38,3.50 L9.00,4.00 L8.25,4.38 L7.50,4.75 L6.75,5.12 L6.00,5.50 L5.25,5.88 L4.50,6.25 L3.75,6.62 L3.00,7.00 L2.25,7.38 L1.50,7.75 L0.75,8.12 L0.00,8.50 L-0.75,8.88 L-1.50,9.25 L-2.25,9.62 L-3.00,10.00 L-3.62,9.50 L-4.25,9.00 L-4.88,8.50 L-5.50,8.00 L-6.12,7.50 L-6.75,7.00 L-7.38,6.50 Z" fill="#cfd8dc"/>
  <path d="M4.00,5.00 L4.75,4.67 L5.50,4.33 L6.25,4.00 L7.00,3.67 L7.75,3.33 L8.50,3.00 L9.25,2.67 L10.00,2.33 L10.75,2.00 L11.50,1.67 L12.13,1.32 L12.16,0.94 L12.08,1.70 L11.95,2.45 L11.78,3.17 L11.57,3.86 L11.34,4.51 L11.08,5.11 L10.82,5.63 L10.52,6.18 L10.17,6.74 L9.76,7.32 L9.25,7.88 L8.50,8.25 L7.75,8.62 L7.00,9.00 L6.50,8.33 L6.00,7.67 L5.50,7.00 L5.00,6.33 L4.50,5.67 Z" fill="#6f8f55"/>
  <path d="M-10.39,6.39 L-10.13,6.80 L-9.83,7.23 L-9.48,7.68 L-9.08,8.14 L-8.63,8.63 L-8.00,9.00 L-7.17,9.17 L-6.33,9.33 L-5.50,9.50 L-4.67,9.67 L-3.83,9.83 L-3.00,10.00 L-2.25,9.62 L-1.50,9.25 L-0.75,8.88 L0.00,8.50 L0.75,8.12 L1.50,7.75 L2.25,7.38 L3.00,7.00 L3.75,6.62 L4.50,6.25 L5.25,5.88 L6.00,5.50 L6.75,5.12 L7.50,4.75 L8.25,4.38 L9.00,4.00 L9.80,4.40 L10.60,4.80 L11.10,5.06 L10.78,5.70 L10.48,6.25 L10.17,6.74 L9.85,7.20 L9.54,7.61 L9.23,7.98 L8.92,8.32 L8.63,8.63 L8.34,8.90 L8.03,9.18 L7.69,9.47 L7.32,9.76 L6.91,10.05 L6.47,10.35 L5.98,10.63 L5.46,10.91 L4.89,11.18 L4.28,11.42 L3.64,11.64 L2.96,11.84 L2.25,11.99 L1.51,12.11 L0.76,12.18 L0.00,12.20 L-0.76,12.18 L-1.51,12.11 L-2.25,11.99 L-2.96,11.84 L-3.64,11.64 L-4.28,11.42 L-4.89,11.18 L-5.46,10.91 L-5.98,10.63 L-6.47,10.35 L-6.91,10.05 L-7.32,9.76 L-7.69,9.47 L-8.03,9.18 L-8.34,8.90 L-8.63,8.63 L-8.91,8.34 L-9.20,8.02 L-9.49,7.67 L-9.79,7.28 L-10.09,6.86 Z" fill="#4f5f56"/>
  <path d="M-6.00,9.00 L-5.27,8.64 L-4.55,8.27 L-3.82,7.91 L-3.09,7.55 L-2.36,7.18 L-1.64,6.82 L-0.91,6.45 L-0.18,6.09 L0.55,5.73 L1.27,5.36 L2.00,5.00 L2.75,5.50 L3.50,6.00 L4.25,6.50 L5.00,7.00 L4.30,7.40 L3.60,7.80 L2.90,8.20 L2.20,8.60 L1.50,9.00 L0.80,9.40 L0.10,9.80 L-0.60,10.20 L-1.30,10.60 L-2.00,11.00 L-2.80,10.60 L-3.60,10.20 L-4.40,9.80 L-5.20,9.40 Z" fill="#97a7ad"/></g>
<g transform="translate(606.7,100.9)">
  <circle r="8.8" fill="#cfdff2"/>
  <circle r="7.7" fill="#c5cbd2"/>
  <path d="M-5.44,-5.44 L-5.18,-5.70 L-4.88,-5.96 L-4.53,-6.23 L-4.13,-6.50 L-3.69,-6.76 L-3.19,-7.01 L-2.63,-7.24 L-2.03,-7.43 L-1.38,-7.58 L-0.70,-7.67 L0.00,-7.70 L0.70,-7.67 L1.38,-7.58 L2.03,-7.43 L2.63,-7.24 L3.19,-7.01 L3.69,-6.76 L4.13,-6.50 L4.53,-6.23 L4.88,-5.96 L5.18,-5.70 L5.44,-5.44 L5.70,-5.17 L5.97,-4.86 L6.24,-4.51 L6.52,-4.10 L6.78,-3.64 L7.04,-3.13 L7.26,-2.56 L7.45,-1.93 L7.60,-1.27 L7.68,-0.57 L7.70,0.14 L7.65,0.85 L7.36,1.00 L6.55,1.00 L5.73,1.00 L4.91,1.00 L4.09,1.00 L3.27,1.00 L2.45,1.00 L1.64,1.00 L0.82,1.00 L0.00,1.00 L-0.82,1.00 L-1.64,1.00 L-2.45,1.00 L-3.27,1.00 L-4.09,1.00 L-4.91,1.00 L-5.73,1.00 L-6.55,1.00 L-7.36,1.00 L-7.64,0.93 L-7.70,0.14 L-7.68,-0.57 L-7.60,-1.27 L-7.45,-1.93 L-7.26,-2.56 L-7.04,-3.13 L-6.78,-3.64 L-6.52,-4.10 L-6.24,-4.51 L-5.97,-4.86 L-5.70,-5.17 Z" fill="#26393f"/>
  <path d="M-7.65,0.85 L-7.70,0.12 L-7.68,-0.61 L-7.59,-1.32 L-7.43,-2.01 L-7.23,-2.64 L-6.99,-3.22 L-6.73,-3.74 L-6.43,-4.24 L-6.06,-4.75 L-5.64,-5.24 L-5.17,-5.71 L-4.64,-6.14 L-4.08,-6.53 L-4.29,-6.39 L-4.53,-6.22 L-4.45,-5.55 L-4.27,-4.73 L-4.09,-3.91 L-3.91,-3.09 L-3.73,-2.27 L-3.55,-1.45 L-3.36,-0.64 L-3.18,0.18 L-3.00,1.00 L-3.86,1.00 L-4.71,1.00 L-5.57,1.00 L-6.43,1.00 L-7.29,1.00 L-7.64,0.94 Z" fill="#3b6130"/>
  <path d="M-3.5,1.2 C-2,-3 0,-6 4,-6.6" stroke="#f2f2f2" stroke-width="1.6" fill="none"/>
  <path d="M4,-6.6 C6,-5 6.5,-2 6.8,1" stroke="#e0e0e0" stroke-width="1.3" fill="none"/>
  <path d="M-1,-1.5 L6,-1.5" stroke="#dcdcdc" stroke-width="0.9"/>
  <path d="M-7.65,0.85 L-7.36,1.00 L-6.55,1.00 L-5.73,1.00 L-4.91,1.00 L-4.09,1.00 L-3.27,1.00 L-2.45,1.00 L-1.64,1.00 L-0.82,1.00 L0.00,1.00 L0.82,1.00 L1.64,1.00 L2.45,1.00 L3.27,1.00 L4.09,1.00 L4.91,1.00 L5.73,1.00 L6.55,1.00 L7.36,1.00 L7.64,0.93 L7.52,1.67 L7.48,1.83 L7.36,2.00 L6.55,2.00 L5.73,2.00 L4.91,2.00 L4.09,2.00 L3.27,2.00 L2.45,2.00 L1.64,2.00 L0.82,2.00 L0.00,2.00 L-0.82,2.00 L-1.64,2.00 L-2.45,2.00 L-3.27,2.00 L-4.09,2.00 L-4.91,2.00 L-5.73,2.00 L-6.55,2.00 L-7.36,2.00 L-7.48,1.83 L-7.52,1.67 Z" fill="#9aa3ab"/>
  <rect x="-3.8" y="3.4" width="7.6" height="1.4" fill="#4d72cc"/></g>
<g transform="translate(310.7,118.5)">
  <ellipse cx="0" cy="-4.6" rx="3.1" ry="1.95" fill="#4656ae"/>
  <ellipse cx="-5.7" cy="-2.2" rx="3.1" ry="1.95" fill="#4656ae"/>
  <ellipse cx="5.2" cy="-2.2" rx="3.1" ry="1.95" fill="#4656ae"/>
  <ellipse cx="0" cy="-0.1" rx="3.1" ry="1.95" fill="#4656ae"/>
  <ellipse cx="-5.7" cy="2.1" rx="3.1" ry="1.95" fill="#4656ae"/>
  <ellipse cx="5.2" cy="2.1" rx="3.1" ry="1.95" fill="#4656ae"/>
  <ellipse cx="0" cy="4.7" rx="3.1" ry="1.95" fill="#4656ae"/></g>
<g transform="translate(353.0,170.0)">
  <path d="M-8.4,-1.7 L-5.2,-4.9 L5.2,-4.9 L8.4,-1.7 L8.4,1.5 L5.2,5.1 L-5.2,5.1 L-8.4,1.5 Z" fill="#3a479e"/>
  <path d="M5.2,1.9 L8.4,-1.7 L8.4,1.5 L5.2,5.1 Z" fill="#28337f"/>
  <path d="M-8.4,-1.7 L-5.2,-4.9 L5.2,-4.9 L8.4,-1.7 L5.2,1.9 L-5.2,1.9 Z" fill="#5060b2"/>
  <path d="M-8.1,-1.4 L-5.2,1.9 L5.2,1.9" stroke="#8d98d4" stroke-width="0.6" fill="none"/></g>
<g transform="translate(502.2,166.5)">
  <path d="M-8,7.5 L-3,1 L3,1 L9,7.5 Z" fill="#e3ecfb"/>
  <path d="M-4.6,-6 L-2.7,-7.2 L-2.7,7.3 L-4.6,6.2 Z" fill="#1f2c86"/>
  <path d="M-2.7,-7.2 L4.6,-7.2 L4.6,6.2 L-2.7,7.3 Z" fill="#3446a6"/>
  <path d="M-2.7,-4 L4.6,-4.6 M-2.7,-1.5 L4.6,-2 M-2.7,1 L4.6,0.5 M-2.7,3.5 L4.6,3 M-2.7,5.8 L4.6,5.4" stroke="#8b9ae0" stroke-width="0.5"/></g>
<g transform="translate(657.9,154.0)">
  <path d="M-8,0 L0,-4 L8,0 L0,4 Z" fill="#4a5bb0"/>
  <path d="M-8,0 L0,4 L0,7.6 L-8,3.6 Z" fill="#2e3d92"/>
  <path d="M8,0 L0,4 L0,7.6 L8,3.6 Z" fill="#25338a"/>
  <path d="M-7,2.2 L-1,5.2" stroke="#7b88c8" stroke-width="0.5"/>
  <ellipse cx="0" cy="-5.6" rx="1.5" ry="1.9" fill="#151515"/>
  <ellipse cx="0" cy="-1.9" rx="2.5" ry="3.6" fill="#1c1c1c"/>
  <ellipse cx="0" cy="-1.3" rx="1.6" ry="2.9" fill="#fafafa"/>
  <ellipse cx="-2.2" cy="1.0" rx="1.8" ry="0.9" fill="#f2b40f"/>
  <ellipse cx="2.2" cy="1.0" rx="1.8" ry="0.9" fill="#f2b40f"/>
  <path d="M-0.7,-4.6 L0.7,-4.6 L0,-3.8Z" fill="#f2b40f"/></g>
<g transform="translate(695.9,194.0)">
  <path d="M-8.4,-1.7 L-5.2,-4.9 L5.2,-4.9 L8.4,-1.7 L8.4,1.5 L5.2,5.1 L-5.2,5.1 L-8.4,1.5 Z" fill="#3a479e"/>
  <path d="M5.2,1.9 L8.4,-1.7 L8.4,1.5 L5.2,5.1 Z" fill="#28337f"/>
  <path d="M-8.4,-1.7 L-5.2,-4.9 L5.2,-4.9 L8.4,-1.7 L5.2,1.9 L-5.2,1.9 Z" fill="#5060b2"/>
  <path d="M-8.1,-1.4 L-5.2,1.9 L5.2,1.9" stroke="#8d98d4" stroke-width="0.6" fill="none"/></g>
<g transform="translate(426.4,236.0)">
  <path d="M-8.5,0 L0,-5.6 L8.5,0 L8.5,1.4 L0,6 L-8.5,1.4 Z" fill="#27358c"/>
  <path d="M-8.5,0 L0,-5.6 L8.5,0 L0,4.6 Z" fill="#4656ac"/>
  <path d="M-3,-2 L3,2 M3,-2 L-3,2 M-1.5,-3.2 L1.5,-3.2 M-4.5,0 L-2,0 M2,0 L4.5,0 M-1.5,3 L1.5,3" stroke="#c3c9ee" stroke-width="0.6"/></g>
<g transform="translate(577.7,236.4)">
  <path d="M-8.5,0 L0,-5.6 L8.5,0 L8.5,1.4 L0,6 L-8.5,1.4 Z" fill="#27358c"/>
  <path d="M-8.5,0 L0,-5.6 L8.5,0 L0,4.6 Z" fill="#4656ac"/>
  <path d="M-3,-2 L3,2 M3,-2 L-3,2 M-1.5,-3.2 L1.5,-3.2 M-4.5,0 L-2,0 M2,0 L4.5,0 M-1.5,3 L1.5,3" stroke="#c3c9ee" stroke-width="0.6"/></g>
<g transform="translate(680.2,238.7)">
  <path d="M-8.4,-1.7 L-5.2,-4.9 L5.2,-4.9 L8.4,-1.7 L8.4,1.5 L5.2,5.1 L-5.2,5.1 L-8.4,1.5 Z" fill="#3a479e"/>
  <path d="M5.2,1.9 L8.4,-1.7 L8.4,1.5 L5.2,5.1 Z" fill="#28337f"/>
  <path d="M-8.4,-1.7 L-5.2,-4.9 L5.2,-4.9 L8.4,-1.7 L5.2,1.9 L-5.2,1.9 Z" fill="#5060b2"/>
  <path d="M-8.1,-1.4 L-5.2,1.9 L5.2,1.9" stroke="#8d98d4" stroke-width="0.6" fill="none"/></g>
<g transform="translate(677.7,269.8)">
  <path d="M-8.4,-1.7 L-5.2,-4.9 L5.2,-4.9 L8.4,-1.7 L8.4,1.5 L5.2,5.1 L-5.2,5.1 L-8.4,1.5 Z" fill="#3a479e"/>
  <path d="M5.2,1.9 L8.4,-1.7 L8.4,1.5 L5.2,5.1 Z" fill="#28337f"/>
  <path d="M-8.4,-1.7 L-5.2,-4.9 L5.2,-4.9 L8.4,-1.7 L5.2,1.9 L-5.2,1.9 Z" fill="#5060b2"/>
  <path d="M-8.1,-1.4 L-5.2,1.9 L5.2,1.9" stroke="#8d98d4" stroke-width="0.6" fill="none"/></g>
<g transform="translate(664.6,307.4)">
  <path d="M-8.4,-1.7 L-5.2,-4.9 L5.2,-4.9 L8.4,-1.7 L8.4,1.5 L5.2,5.1 L-5.2,5.1 L-8.4,1.5 Z" fill="#3a479e"/>
  <path d="M5.2,1.9 L8.4,-1.7 L8.4,1.5 L5.2,5.1 Z" fill="#28337f"/>
  <path d="M-8.4,-1.7 L-5.2,-4.9 L5.2,-4.9 L8.4,-1.7 L5.2,1.9 L-5.2,1.9 Z" fill="#5060b2"/>
  <path d="M-8.1,-1.4 L-5.2,1.9 L5.2,1.9" stroke="#8d98d4" stroke-width="0.6" fill="none"/></g>
<g transform="translate(279.7,259.8)">
  <path d="M-8,0 L0,-4 L8,0 L0,4 Z" fill="#4a5bb0"/>
  <path d="M-8,0 L0,4 L0,7.6 L-8,3.6 Z" fill="#2e3d92"/>
  <path d="M8,0 L0,4 L0,7.6 L8,3.6 Z" fill="#25338a"/>
  <path d="M-7,2.2 L-1,5.2" stroke="#7b88c8" stroke-width="0.5"/>
  <ellipse cx="0" cy="-5.6" rx="1.5" ry="1.9" fill="#151515"/>
  <ellipse cx="0" cy="-1.9" rx="2.5" ry="3.6" fill="#1c1c1c"/>
  <ellipse cx="0" cy="-1.3" rx="1.6" ry="2.9" fill="#fafafa"/>
  <ellipse cx="-2.2" cy="1.0" rx="1.8" ry="0.9" fill="#f2b40f"/>
  <ellipse cx="2.2" cy="1.0" rx="1.8" ry="0.9" fill="#f2b40f"/>
  <path d="M-0.7,-4.6 L0.7,-4.6 L0,-3.8Z" fill="#f2b40f"/></g>
<g transform="translate(166.3,263.1)">
  <path d="M-8,0 L0,-4 L8,0 L0,4 Z" fill="#4a5bb0"/>
  <path d="M-8,0 L0,4 L0,7.6 L-8,3.6 Z" fill="#2e3d92"/>
  <path d="M8,0 L0,4 L0,7.6 L8,3.6 Z" fill="#25338a"/>
  <path d="M-7,2.2 L-1,5.2" stroke="#7b88c8" stroke-width="0.5"/>
  <ellipse cx="0" cy="-5.6" rx="1.5" ry="1.9" fill="#151515"/>
  <ellipse cx="0" cy="-1.9" rx="2.5" ry="3.6" fill="#1c1c1c"/>
  <ellipse cx="0" cy="-1.3" rx="1.6" ry="2.9" fill="#fafafa"/>
  <ellipse cx="-2.2" cy="1.0" rx="1.8" ry="0.9" fill="#f2b40f"/>
  <ellipse cx="2.2" cy="1.0" rx="1.8" ry="0.9" fill="#f2b40f"/>
  <path d="M-0.7,-4.6 L0.7,-4.6 L0,-3.8Z" fill="#f2b40f"/></g>
<g transform="translate(105.9,345.5)">
  <path d="M-8,0 L0,-4 L8,0 L0,4 Z" fill="#4a5bb0"/>
  <path d="M-8,0 L0,4 L0,7.6 L-8,3.6 Z" fill="#2e3d92"/>
  <path d="M8,0 L0,4 L0,7.6 L8,3.6 Z" fill="#25338a"/>
  <path d="M-7,2.2 L-1,5.2" stroke="#7b88c8" stroke-width="0.5"/>
  <ellipse cx="0" cy="-5.6" rx="1.5" ry="1.9" fill="#151515"/>
  <ellipse cx="0" cy="-1.9" rx="2.5" ry="3.6" fill="#1c1c1c"/>
  <ellipse cx="0" cy="-1.3" rx="1.6" ry="2.9" fill="#fafafa"/>
  <ellipse cx="-2.2" cy="1.0" rx="1.8" ry="0.9" fill="#f2b40f"/>
  <ellipse cx="2.2" cy="1.0" rx="1.8" ry="0.9" fill="#f2b40f"/>
  <path d="M-0.7,-4.6 L0.7,-4.6 L0,-3.8Z" fill="#f2b40f"/></g>
<g transform="translate(219.3,346.5)">
  <path d="M-8.5,0 L0,-5.6 L8.5,0 L8.5,1.4 L0,6 L-8.5,1.4 Z" fill="#27358c"/>
  <path d="M-8.5,0 L0,-5.6 L8.5,0 L0,4.6 Z" fill="#4656ac"/>
  <path d="M-3,-2 L3,2 M3,-2 L-3,2 M-1.5,-3.2 L1.5,-3.2 M-4.5,0 L-2,0 M2,0 L4.5,0 M-1.5,3 L1.5,3" stroke="#c3c9ee" stroke-width="0.6"/></g>
<g transform="translate(121.3,412.5)">
  <path d="M-8,0 L0,-4 L8,0 L0,4 Z" fill="#4a5bb0"/>
  <path d="M-8,0 L0,4 L0,7.6 L-8,3.6 Z" fill="#2e3d92"/>
  <path d="M8,0 L0,4 L0,7.6 L8,3.6 Z" fill="#25338a"/>
  <path d="M-7,2.2 L-1,5.2" stroke="#7b88c8" stroke-width="0.5"/>
  <ellipse cx="0" cy="-5.6" rx="1.5" ry="1.9" fill="#151515"/>
  <ellipse cx="0" cy="-1.9" rx="2.5" ry="3.6" fill="#1c1c1c"/>
  <ellipse cx="0" cy="-1.3" rx="1.6" ry="2.9" fill="#fafafa"/>
  <ellipse cx="-2.2" cy="1.0" rx="1.8" ry="0.9" fill="#f2b40f"/>
  <ellipse cx="2.2" cy="1.0" rx="1.8" ry="0.9" fill="#f2b40f"/>
  <path d="M-0.7,-4.6 L0.7,-4.6 L0,-3.8Z" fill="#f2b40f"/></g>
<g transform="translate(248.5,410.0)">
  <path d="M-8.6,-1.8 L0.9,-5.9 L6.6,-1.2 L6.6,2.2 L-1.1,6.1 L-8.6,1.6 Z" fill="#27358c"/>
  <path d="M-8.6,-1.8 L0.9,-5.9 L6.6,-1.2 L-1.1,2.7 Z" fill="#4757ad"/>
  <path d="M-7.5,1 L-3,3.6" stroke="#aab3e6" stroke-width="0.6" stroke-dasharray="0.8 0.8"/>
  <rect x="-2.6" y="-4.2" width="2.2" height="2.2" fill="#e8502f"/>
  <rect x="0" y="-3.6" width="2.2" height="2.2" fill="#7cbb2a"/>
  <rect x="-3.2" y="-1.6" width="2.2" height="2.2" fill="#1ea0ee"/>
  <rect x="-0.6" y="-1.0" width="2.2" height="2.2" fill="#f6b400"/></g>
<g transform="translate(179.2,445.1)">
  <path d="M-8,0 L0,-4 L8,0 L0,4 Z" fill="#4a5bb0"/>
  <path d="M-8,0 L0,4 L0,7.6 L-8,3.6 Z" fill="#2e3d92"/>
  <path d="M8,0 L0,4 L0,7.6 L8,3.6 Z" fill="#25338a"/>
  <path d="M-7,2.2 L-1,5.2" stroke="#7b88c8" stroke-width="0.5"/>
  <ellipse cx="0" cy="-5.6" rx="1.5" ry="1.9" fill="#151515"/>
  <ellipse cx="0" cy="-1.9" rx="2.5" ry="3.6" fill="#1c1c1c"/>
  <ellipse cx="0" cy="-1.3" rx="1.6" ry="2.9" fill="#fafafa"/>
  <ellipse cx="-2.2" cy="1.0" rx="1.8" ry="0.9" fill="#f2b40f"/>
  <ellipse cx="2.2" cy="1.0" rx="1.8" ry="0.9" fill="#f2b40f"/>
  <path d="M-0.7,-4.6 L0.7,-4.6 L0,-3.8Z" fill="#f2b40f"/></g>
<g transform="translate(266.3,458.9)">
  <path d="M-8,0 L0,-4 L8,0 L0,4 Z" fill="#4a5bb0"/>
  <path d="M-8,0 L0,4 L0,7.6 L-8,3.6 Z" fill="#2e3d92"/>
  <path d="M8,0 L0,4 L0,7.6 L8,3.6 Z" fill="#25338a"/>
  <path d="M-7,2.2 L-1,5.2" stroke="#7b88c8" stroke-width="0.5"/>
  <ellipse cx="0" cy="-5.6" rx="1.5" ry="1.9" fill="#151515"/>
  <ellipse cx="0" cy="-1.9" rx="2.5" ry="3.6" fill="#1c1c1c"/>
  <ellipse cx="0" cy="-1.3" rx="1.6" ry="2.9" fill="#fafafa"/>
  <ellipse cx="-2.2" cy="1.0" rx="1.8" ry="0.9" fill="#f2b40f"/>
  <ellipse cx="2.2" cy="1.0" rx="1.8" ry="0.9" fill="#f2b40f"/>
  <path d="M-0.7,-4.6 L0.7,-4.6 L0,-3.8Z" fill="#f2b40f"/></g>
<g transform="translate(368.6,330.9)">
  <path d="M-8,0 L0,-4 L8,0 L0,4 Z" fill="#4a5bb0"/>
  <path d="M-8,0 L0,4 L0,7.6 L-8,3.6 Z" fill="#2e3d92"/>
  <path d="M8,0 L0,4 L0,7.6 L8,3.6 Z" fill="#25338a"/>
  <path d="M-7,2.2 L-1,5.2" stroke="#7b88c8" stroke-width="0.5"/>
  <ellipse cx="0" cy="-5.6" rx="1.5" ry="1.9" fill="#151515"/>
  <ellipse cx="0" cy="-1.9" rx="2.5" ry="3.6" fill="#1c1c1c"/>
  <ellipse cx="0" cy="-1.3" rx="1.6" ry="2.9" fill="#fafafa"/>
  <ellipse cx="-2.2" cy="1.0" rx="1.8" ry="0.9" fill="#f2b40f"/>
  <ellipse cx="2.2" cy="1.0" rx="1.8" ry="0.9" fill="#f2b40f"/>
  <path d="M-0.7,-4.6 L0.7,-4.6 L0,-3.8Z" fill="#f2b40f"/></g>
<g transform="translate(331.0,367.4)">
  <path d="M-8,0 L0,-4 L8,0 L0,4 Z" fill="#4a5bb0"/>
  <path d="M-8,0 L0,4 L0,7.6 L-8,3.6 Z" fill="#2e3d92"/>
  <path d="M8,0 L0,4 L0,7.6 L8,3.6 Z" fill="#25338a"/>
  <path d="M-7,2.2 L-1,5.2" stroke="#7b88c8" stroke-width="0.5"/>
  <ellipse cx="0" cy="-5.6" rx="1.5" ry="1.9" fill="#151515"/>
  <ellipse cx="0" cy="-1.9" rx="2.5" ry="3.6" fill="#1c1c1c"/>
  <ellipse cx="0" cy="-1.3" rx="1.6" ry="2.9" fill="#fafafa"/>
  <ellipse cx="-2.2" cy="1.0" rx="1.8" ry="0.9" fill="#f2b40f"/>
  <ellipse cx="2.2" cy="1.0" rx="1.8" ry="0.9" fill="#f2b40f"/>
  <path d="M-0.7,-4.6 L0.7,-4.6 L0,-3.8Z" fill="#f2b40f"/></g>
<g transform="translate(441.3,388.8)">
  <path d="M-8.4,-1.7 L-5.2,-4.9 L5.2,-4.9 L8.4,-1.7 L8.4,1.5 L5.2,5.1 L-5.2,5.1 L-8.4,1.5 Z" fill="#3a479e"/>
  <path d="M5.2,1.9 L8.4,-1.7 L8.4,1.5 L5.2,5.1 Z" fill="#28337f"/>
  <path d="M-8.4,-1.7 L-5.2,-4.9 L5.2,-4.9 L8.4,-1.7 L5.2,1.9 L-5.2,1.9 Z" fill="#5060b2"/>
  <path d="M-8.1,-1.4 L-5.2,1.9 L5.2,1.9" stroke="#8d98d4" stroke-width="0.6" fill="none"/></g>
<g transform="translate(464.3,402.5)">
  <path d="M-8,0 L0,-4 L8,0 L0,4 Z" fill="#4a5bb0"/>
  <path d="M-8,0 L0,4 L0,7.6 L-8,3.6 Z" fill="#2e3d92"/>
  <path d="M8,0 L0,4 L0,7.6 L8,3.6 Z" fill="#25338a"/>
  <path d="M-7,2.2 L-1,5.2" stroke="#7b88c8" stroke-width="0.5"/>
  <ellipse cx="0" cy="-5.6" rx="1.5" ry="1.9" fill="#151515"/>
  <ellipse cx="0" cy="-1.9" rx="2.5" ry="3.6" fill="#1c1c1c"/>
  <ellipse cx="0" cy="-1.3" rx="1.6" ry="2.9" fill="#fafafa"/>
  <ellipse cx="-2.2" cy="1.0" rx="1.8" ry="0.9" fill="#f2b40f"/>
  <ellipse cx="2.2" cy="1.0" rx="1.8" ry="0.9" fill="#f2b40f"/>
  <path d="M-0.7,-4.6 L0.7,-4.6 L0,-3.8Z" fill="#f2b40f"/></g>
<g transform="translate(323.9,475.6)">
  <path d="M-8.4,-1.7 L-5.2,-4.9 L5.2,-4.9 L8.4,-1.7 L8.4,1.5 L5.2,5.1 L-5.2,5.1 L-8.4,1.5 Z" fill="#3a479e"/>
  <path d="M5.2,1.9 L8.4,-1.7 L8.4,1.5 L5.2,5.1 Z" fill="#28337f"/>
  <path d="M-8.4,-1.7 L-5.2,-4.9 L5.2,-4.9 L8.4,-1.7 L5.2,1.9 L-5.2,1.9 Z" fill="#5060b2"/>
  <path d="M-8.1,-1.4 L-5.2,1.9 L5.2,1.9" stroke="#8d98d4" stroke-width="0.6" fill="none"/></g>
<g transform="translate(375.3,472.5)">
  <path d="M-8.4,-1.7 L-5.2,-4.9 L5.2,-4.9 L8.4,-1.7 L8.4,1.5 L5.2,5.1 L-5.2,5.1 L-8.4,1.5 Z" fill="#3a479e"/>
  <path d="M5.2,1.9 L8.4,-1.7 L8.4,1.5 L5.2,5.1 Z" fill="#28337f"/>
  <path d="M-8.4,-1.7 L-5.2,-4.9 L5.2,-4.9 L8.4,-1.7 L5.2,1.9 L-5.2,1.9 Z" fill="#5060b2"/>
  <path d="M-8.1,-1.4 L-5.2,1.9 L5.2,1.9" stroke="#8d98d4" stroke-width="0.6" fill="none"/></g>
<g transform="translate(426.2,459.0)">
  <path d="M-8.4,-1.7 L-5.2,-4.9 L5.2,-4.9 L8.4,-1.7 L8.4,1.5 L5.2,5.1 L-5.2,5.1 L-8.4,1.5 Z" fill="#3a479e"/>
  <path d="M5.2,1.9 L8.4,-1.7 L8.4,1.5 L5.2,5.1 Z" fill="#28337f"/>
  <path d="M-8.4,-1.7 L-5.2,-4.9 L5.2,-4.9 L8.4,-1.7 L5.2,1.9 L-5.2,1.9 Z" fill="#5060b2"/>
  <path d="M-8.1,-1.4 L-5.2,1.9 L5.2,1.9" stroke="#8d98d4" stroke-width="0.6" fill="none"/></g>
<g transform="translate(526.8,367.3)">
  <path d="M-8,0 L0,-4 L8,0 L0,4 Z" fill="#4a5bb0"/>
  <path d="M-8,0 L0,4 L0,7.6 L-8,3.6 Z" fill="#2e3d92"/>
  <path d="M8,0 L0,4 L0,7.6 L8,3.6 Z" fill="#25338a"/>
  <path d="M-7,2.2 L-1,5.2" stroke="#7b88c8" stroke-width="0.5"/>
  <ellipse cx="0" cy="-5.6" rx="1.5" ry="1.9" fill="#151515"/>
  <ellipse cx="0" cy="-1.9" rx="2.5" ry="3.6" fill="#1c1c1c"/>
  <ellipse cx="0" cy="-1.3" rx="1.6" ry="2.9" fill="#fafafa"/>
  <ellipse cx="-2.2" cy="1.0" rx="1.8" ry="0.9" fill="#f2b40f"/>
  <ellipse cx="2.2" cy="1.0" rx="1.8" ry="0.9" fill="#f2b40f"/>
  <path d="M-0.7,-4.6 L0.7,-4.6 L0,-3.8Z" fill="#f2b40f"/></g>
<g transform="translate(600.3,368.7)">
  <path d="M-8,0 L0,-4 L8,0 L0,4 Z" fill="#4a5bb0"/>
  <path d="M-8,0 L0,4 L0,7.6 L-8,3.6 Z" fill="#2e3d92"/>
  <path d="M8,0 L0,4 L0,7.6 L8,3.6 Z" fill="#25338a"/>
  <path d="M-7,2.2 L-1,5.2" stroke="#7b88c8" stroke-width="0.5"/>
  <ellipse cx="0" cy="-5.6" rx="1.5" ry="1.9" fill="#151515"/>
  <ellipse cx="0" cy="-1.9" rx="2.5" ry="3.6" fill="#1c1c1c"/>
  <ellipse cx="0" cy="-1.3" rx="1.6" ry="2.9" fill="#fafafa"/>
  <ellipse cx="-2.2" cy="1.0" rx="1.8" ry="0.9" fill="#f2b40f"/>
  <ellipse cx="2.2" cy="1.0" rx="1.8" ry="0.9" fill="#f2b40f"/>
  <path d="M-0.7,-4.6 L0.7,-4.6 L0,-3.8Z" fill="#f2b40f"/></g>
<g transform="translate(600.3,412.7)">
  <path d="M-8,0 L0,-4 L8,0 L0,4 Z" fill="#4a5bb0"/>
  <path d="M-8,0 L0,4 L0,7.6 L-8,3.6 Z" fill="#2e3d92"/>
  <path d="M8,0 L0,4 L0,7.6 L8,3.6 Z" fill="#25338a"/>
  <path d="M-7,2.2 L-1,5.2" stroke="#7b88c8" stroke-width="0.5"/>
  <ellipse cx="0" cy="-5.6" rx="1.5" ry="1.9" fill="#151515"/>
  <ellipse cx="0" cy="-1.9" rx="2.5" ry="3.6" fill="#1c1c1c"/>
  <ellipse cx="0" cy="-1.3" rx="1.6" ry="2.9" fill="#fafafa"/>
  <ellipse cx="-2.2" cy="1.0" rx="1.8" ry="0.9" fill="#f2b40f"/>
  <ellipse cx="2.2" cy="1.0" rx="1.8" ry="0.9" fill="#f2b40f"/>
  <path d="M-0.7,-4.6 L0.7,-4.6 L0,-3.8Z" fill="#f2b40f"/></g>
<g transform="translate(497.8,440.2)">
  <path d="M-8.6,-1.8 L0.9,-5.9 L6.6,-1.2 L6.6,2.2 L-1.1,6.1 L-8.6,1.6 Z" fill="#27358c"/>
  <path d="M-8.6,-1.8 L0.9,-5.9 L6.6,-1.2 L-1.1,2.7 Z" fill="#4757ad"/>
  <path d="M-7.5,1 L-3,3.6" stroke="#aab3e6" stroke-width="0.6" stroke-dasharray="0.8 0.8"/>
  <rect x="-2.6" y="-4.2" width="2.2" height="2.2" fill="#e8502f"/>
  <rect x="0" y="-3.6" width="2.2" height="2.2" fill="#7cbb2a"/>
  <rect x="-3.2" y="-1.6" width="2.2" height="2.2" fill="#1ea0ee"/>
  <rect x="-0.6" y="-1.0" width="2.2" height="2.2" fill="#f6b400"/></g>
<g transform="translate(551.4,440.2)">
  <path d="M-8.6,-1.8 L0.9,-5.9 L6.6,-1.2 L6.6,2.2 L-1.1,6.1 L-8.6,1.6 Z" fill="#27358c"/>
  <path d="M-8.6,-1.8 L0.9,-5.9 L6.6,-1.2 L-1.1,2.7 Z" fill="#4757ad"/>
  <path d="M-7.5,1 L-3,3.6" stroke="#aab3e6" stroke-width="0.6" stroke-dasharray="0.8 0.8"/>
  <rect x="-2.6" y="-4.2" width="2.2" height="2.2" fill="#e8502f"/>
  <rect x="0" y="-3.6" width="2.2" height="2.2" fill="#7cbb2a"/>
  <rect x="-3.2" y="-1.6" width="2.2" height="2.2" fill="#1ea0ee"/>
  <rect x="-0.6" y="-1.0" width="2.2" height="2.2" fill="#f6b400"/></g>
<g transform="translate(647.0,353.7)">
  <path d="M-8,0 L0,-4 L8,0 L0,4 Z" fill="#4a5bb0"/>
  <path d="M-8,0 L0,4 L0,7.6 L-8,3.6 Z" fill="#2e3d92"/>
  <path d="M8,0 L0,4 L0,7.6 L8,3.6 Z" fill="#25338a"/>
  <path d="M-7,2.2 L-1,5.2" stroke="#7b88c8" stroke-width="0.5"/>
  <ellipse cx="0" cy="-5.6" rx="1.5" ry="1.9" fill="#151515"/>
  <ellipse cx="0" cy="-1.9" rx="2.5" ry="3.6" fill="#1c1c1c"/>
  <ellipse cx="0" cy="-1.3" rx="1.6" ry="2.9" fill="#fafafa"/>
  <ellipse cx="-2.2" cy="1.0" rx="1.8" ry="0.9" fill="#f2b40f"/>
  <ellipse cx="2.2" cy="1.0" rx="1.8" ry="0.9" fill="#f2b40f"/>
  <path d="M-0.7,-4.6 L0.7,-4.6 L0,-3.8Z" fill="#f2b40f"/></g>
<g transform="translate(727.0,354.5)">
  <ellipse cx="0" cy="2.2" rx="8" ry="4.4" fill="#27358c"/>
  <rect x="-8" y="-1" width="16" height="3.2" fill="#27358c"/>
  <ellipse cx="0" cy="-1" rx="8" ry="4.4" fill="#4c5cb2"/>
  <path d="M-4,-2 L-1,-3.5 M1,1 L4,-0.5 M-2,1 L-4,0 M2,-3 L4,-2" stroke="#d5daf5" stroke-width="0.7"/></g>
<g transform="translate(720.3,399.0)">
  <ellipse cx="0" cy="2.2" rx="8" ry="4.4" fill="#27358c"/>
  <rect x="-8" y="-1" width="16" height="3.2" fill="#27358c"/>
  <ellipse cx="0" cy="-1" rx="8" ry="4.4" fill="#4c5cb2"/>
  <path d="M-4,-2 L-1,-3.5 M1,1 L4,-0.5 M-2,1 L-4,0 M2,-3 L4,-2" stroke="#d5daf5" stroke-width="0.7"/></g>
<g transform="translate(653.0,416.4)">
  <path d="M-8.5,0 L0,-5.6 L8.5,0 L8.5,1.4 L0,6 L-8.5,1.4 Z" fill="#27358c"/>
  <path d="M-8.5,0 L0,-5.6 L8.5,0 L0,4.6 Z" fill="#4656ac"/>
  <path d="M-3,-2 L3,2 M3,-2 L-3,2 M-1.5,-3.2 L1.5,-3.2 M-4.5,0 L-2,0 M2,0 L4.5,0 M-1.5,3 L1.5,3" stroke="#c3c9ee" stroke-width="0.6"/></g></g>
<g><text x="436.1" y="115.5" text-anchor="middle" textLength="10.6" lengthAdjust="spacingAndGlyphs" font-size="3.1" font-weight="bold" fill="#1a1a1a">HXRK</text>
<text x="606.7" y="112.5" text-anchor="middle" textLength="4.5" lengthAdjust="spacingAndGlyphs" font-size="3.1" font-weight="bold" fill="#1a1a1a">2L</text>
<text x="310.7" y="130.1" text-anchor="middle" textLength="5" lengthAdjust="spacingAndGlyphs" font-size="3.1" font-weight="bold" fill="#1a1a1a">test</text>
<text x="353.0" y="180.9" text-anchor="middle" textLength="16" lengthAdjust="spacingAndGlyphs" font-size="3.1" font-weight="bold" fill="#1a1a1a">192.168.1.87</text>
<text x="353.0" y="184.29999999999998" text-anchor="middle" textLength="16" lengthAdjust="spacingAndGlyphs" font-size="3.1" font-weight="bold" fill="#1a1a1a">192.168.1.87</text>
<text x="502.2" y="178.1" text-anchor="middle" textLength="17" lengthAdjust="spacingAndGlyphs" font-size="3.1" font-weight="bold" fill="#1a1a1a">JuniperSRX-vSRX</text>
<text x="502.2" y="181.0" text-anchor="middle" textLength="15" lengthAdjust="spacingAndGlyphs" font-size="3.1" font-weight="bold" fill="#1a1a1a">192.168.1.1</text>
<text x="657.9" y="165.4" text-anchor="middle" textLength="27" lengthAdjust="spacingAndGlyphs" font-size="3.1" font-weight="bold" fill="#1a1a1a">WIN-SERVER2008-TO</text>
<text x="657.9" y="169.0" text-anchor="middle" textLength="18" lengthAdjust="spacingAndGlyphs" font-size="3.1" font-weight="bold" fill="#1a1a1a">192.168.1.110</text>
<text x="695.9" y="205.7" text-anchor="middle" textLength="19" lengthAdjust="spacingAndGlyphs" font-size="3.1" font-weight="bold" fill="#1a1a1a">192.168.1.90</text>
<text x="695.9" y="208.9" text-anchor="middle" textLength="19" lengthAdjust="spacingAndGlyphs" font-size="3.1" font-weight="bold" fill="#1a1a1a">192.168.1.90</text>
<text x="426.4" y="247.9" text-anchor="middle" textLength="18" lengthAdjust="spacingAndGlyphs" font-size="3.1" font-weight="bold" fill="#1a1a1a">HXJHJ-S5</text>
<text x="426.4" y="250.7" text-anchor="middle" textLength="18" lengthAdjust="spacingAndGlyphs" font-size="3.1" font-weight="bold" fill="#1a1a1a">192.168.1.100</text>
<text x="577.7" y="248.0" text-anchor="middle" textLength="19" lengthAdjust="spacingAndGlyphs" font-size="3.1" font-weight="bold" fill="#1a1a1a">HXJHJ-S6</text>
<text x="577.7" y="251.29999999999998" text-anchor="middle" textLength="18" lengthAdjust="spacingAndGlyphs" font-size="3.1" font-weight="bold" fill="#1a1a1a">192.168.1.90</text>
<text x="680.2" y="250.1" text-anchor="middle" textLength="18" lengthAdjust="spacingAndGlyphs" font-size="3.1" font-weight="bold" fill="#1a1a1a">192.168.1.120</text>
<text x="680.2" y="253.1" text-anchor="middle" textLength="18" lengthAdjust="spacingAndGlyphs" font-size="3.1" font-weight="bold" fill="#1a1a1a">192.168.1.120</text>
<text x="677.7" y="281.6" text-anchor="middle" textLength="18" lengthAdjust="spacingAndGlyphs" font-size="3.1" font-weight="bold" fill="#1a1a1a">192.168.1.121</text>
<text x="677.7" y="284.5" text-anchor="middle" textLength="18" lengthAdjust="spacingAndGlyphs" font-size="3.1" font-weight="bold" fill="#1a1a1a">192.168.1.121</text>
<text x="664.6" y="319.5" text-anchor="middle" textLength="17" lengthAdjust="spacingAndGlyphs" font-size="3.1" font-weight="bold" fill="#1a1a1a">192.168.1.254</text>
<text x="664.6" y="322.90000000000003" text-anchor="middle" textLength="17" lengthAdjust="spacingAndGlyphs" font-size="3.1" font-weight="bold" fill="#1a1a1a">192.168.1.254</text>
<text x="279.7" y="271.3" text-anchor="middle" textLength="27" lengthAdjust="spacingAndGlyphs" font-size="3.1" font-weight="bold" fill="#1a1a1a">H3C SWITCH-E5000</text>
<text x="279.7" y="274.20000000000005" text-anchor="middle" textLength="16" lengthAdjust="spacingAndGlyphs" font-size="3.1" font-weight="bold" fill="#1a1a1a">192.168.1.62</text>
<text x="166.3" y="274.8" text-anchor="middle" textLength="10" lengthAdjust="spacingAndGlyphs" font-size="3.1" font-weight="bold" fill="#1a1a1a">zabbix</text>
<text x="166.3" y="277.5" text-anchor="middle" textLength="18" lengthAdjust="spacingAndGlyphs" font-size="3.1" font-weight="bold" fill="#1a1a1a">192.168.1.143</text>
<text x="105.9" y="358.3" text-anchor="middle" textLength="33" lengthAdjust="spacingAndGlyphs" font-size="3.1" font-weight="bold" fill="#1a1a1a">centos7-QYCSJQ</text>
<text x="105.9" y="360.90000000000003" text-anchor="middle" textLength="18" lengthAdjust="spacingAndGlyphs" font-size="3.1" font-weight="bold" fill="#1a1a1a">192.168.1.177</text>
<text x="219.3" y="358.5" text-anchor="middle" textLength="27" lengthAdjust="spacingAndGlyphs" font-size="3.1" font-weight="bold" fill="#1a1a1a">H3C SWITCH-E1024</text>
<text x="219.3" y="361.3" text-anchor="middle" textLength="16" lengthAdjust="spacingAndGlyphs" font-size="3.1" font-weight="bold" fill="#1a1a1a">192.168.1.68</text>
<text x="121.3" y="425.1" text-anchor="middle" textLength="19" lengthAdjust="spacingAndGlyphs" font-size="3.1" font-weight="bold" fill="#1a1a1a">test_ospf</text>
<text x="121.3" y="427.70000000000005" text-anchor="middle" textLength="20" lengthAdjust="spacingAndGlyphs" font-size="3.1" font-weight="bold" fill="#1a1a1a">192.168.1.188</text>
<text x="248.5" y="421.5" text-anchor="middle" textLength="27" lengthAdjust="spacingAndGlyphs" font-size="3.1" font-weight="bold" fill="#1a1a1a">WIN-SERVER2019</text>
<text x="248.5" y="424.40000000000003" text-anchor="middle" textLength="16" lengthAdjust="spacingAndGlyphs" font-size="3.1" font-weight="bold" fill="#1a1a1a">192.168.1.27</text>
<text x="179.2" y="457.3" text-anchor="middle" textLength="21" lengthAdjust="spacingAndGlyphs" font-size="3.1" font-weight="bold" fill="#1a1a1a">Ubuntu-1-102</text>
<text x="179.2" y="459.8" text-anchor="middle" textLength="19" lengthAdjust="spacingAndGlyphs" font-size="3.1" font-weight="bold" fill="#1a1a1a">192.168.1.102</text>
<text x="266.3" y="470.3" text-anchor="middle" textLength="19" lengthAdjust="spacingAndGlyphs" font-size="3.1" font-weight="bold" fill="#1a1a1a">192.168.1.103</text>
<text x="266.3" y="473.90000000000003" text-anchor="middle" textLength="19" lengthAdjust="spacingAndGlyphs" font-size="3.1" font-weight="bold" fill="#1a1a1a">192.168.1.104</text>
<text x="368.6" y="342.6" text-anchor="middle" textLength="16" lengthAdjust="spacingAndGlyphs" font-size="3.1" font-weight="bold" fill="#1a1a1a">192.168.1.40</text>
<text x="368.6" y="345.40000000000003" text-anchor="middle" textLength="16" lengthAdjust="spacingAndGlyphs" font-size="3.1" font-weight="bold" fill="#1a1a1a">192.168.1.40</text>
<text x="331.0" y="379.6" text-anchor="middle" textLength="25" lengthAdjust="spacingAndGlyphs" font-size="3.1" font-weight="bold" fill="#1a1a1a">sw-SWITCH-E500</text>
<text x="331.0" y="382.8" text-anchor="middle" textLength="16" lengthAdjust="spacingAndGlyphs" font-size="3.1" font-weight="bold" fill="#1a1a1a">192.168.1.61</text>
<text x="441.3" y="400.20000000000005" text-anchor="middle" textLength="32" lengthAdjust="spacingAndGlyphs" font-size="3.1" font-weight="bold" fill="#1a1a1a">HUAWEI-SWITCH-E5000</text>
<text x="441.3" y="403.5" text-anchor="middle" textLength="16" lengthAdjust="spacingAndGlyphs" font-size="3.1" font-weight="bold" fill="#1a1a1a">192.168.1.54</text>
<text x="464.3" y="415.1" text-anchor="middle" textLength="10" lengthAdjust="spacingAndGlyphs" font-size="3.1" font-weight="bold" fill="#1a1a1a">open-01</text>
<text x="464.3" y="418.1" text-anchor="middle" textLength="14" lengthAdjust="spacingAndGlyphs" font-size="3.1" font-weight="bold" fill="#1a1a1a">192.168.1.76</text>
<text x="323.9" y="487.3" text-anchor="middle" textLength="18" lengthAdjust="spacingAndGlyphs" font-size="3.1" font-weight="bold" fill="#1a1a1a">192.168.1.238</text>
<text x="323.9" y="490.20000000000005" text-anchor="middle" textLength="18" lengthAdjust="spacingAndGlyphs" font-size="3.1" font-weight="bold" fill="#1a1a1a">192.168.1.238</text>
<text x="375.3" y="483.90000000000003" text-anchor="middle" textLength="19" lengthAdjust="spacingAndGlyphs" font-size="3.1" font-weight="bold" fill="#1a1a1a">192.168.1.237</text>
<text x="375.3" y="487.0" text-anchor="middle" textLength="19" lengthAdjust="spacingAndGlyphs" font-size="3.1" font-weight="bold" fill="#1a1a1a">192.168.1.237</text>
<text x="426.2" y="470.40000000000003" text-anchor="middle" textLength="28" lengthAdjust="spacingAndGlyphs" font-size="3.1" font-weight="bold" fill="#1a1a1a">Source Code Server</text>
<text x="426.2" y="473.5" text-anchor="middle" textLength="16" lengthAdjust="spacingAndGlyphs" font-size="3.1" font-weight="bold" fill="#1a1a1a">192.168.1.218</text>
<text x="526.8" y="378.5" text-anchor="middle" textLength="41" lengthAdjust="spacingAndGlyphs" font-size="3.1" font-weight="bold" fill="#1a1a1a">CSJQ-node-192.168.1.213</text>
<text x="526.8" y="382.1" text-anchor="middle" textLength="16" lengthAdjust="spacingAndGlyphs" font-size="3.1" font-weight="bold" fill="#1a1a1a">192.168.1.213</text>
<text x="600.3" y="380.20000000000005" text-anchor="middle" textLength="27" lengthAdjust="spacingAndGlyphs" font-size="3.1" font-weight="bold" fill="#1a1a1a">node-192.168.1.109</text>
<text x="600.3" y="383.8" text-anchor="middle" textLength="18" lengthAdjust="spacingAndGlyphs" font-size="3.1" font-weight="bold" fill="#1a1a1a">192.168.1.109</text>
<text x="600.3" y="424.5" text-anchor="middle" textLength="27" lengthAdjust="spacingAndGlyphs" font-size="3.1" font-weight="bold" fill="#1a1a1a">centos7-nacos-afe4</text>
<text x="600.3" y="427.6" text-anchor="middle" textLength="16" lengthAdjust="spacingAndGlyphs" font-size="3.1" font-weight="bold" fill="#1a1a1a">192.168.1.12</text>
<text x="497.8" y="451.3" text-anchor="middle" textLength="28" lengthAdjust="spacingAndGlyphs" font-size="3.1" font-weight="bold" fill="#1a1a1a">WINSERVER2012-NET</text>
<text x="497.8" y="454.8" text-anchor="middle" textLength="16" lengthAdjust="spacingAndGlyphs" font-size="3.1" font-weight="bold" fill="#1a1a1a">192.168.1.28</text>
<text x="551.4" y="451.3" text-anchor="middle" textLength="29" lengthAdjust="spacingAndGlyphs" font-size="3.1" font-weight="bold" fill="#1a1a1a">WIN-SQLSERVER2014</text>
<text x="551.4" y="454.8" text-anchor="middle" textLength="16" lengthAdjust="spacingAndGlyphs" font-size="3.1" font-weight="bold" fill="#1a1a1a">192.168.1.101</text>
<text x="647.0" y="365.40000000000003" text-anchor="middle" textLength="28" lengthAdjust="spacingAndGlyphs" font-size="3.1" font-weight="bold" fill="#1a1a1a">oracle-testdb-dev</text>
<text x="647.0" y="368.5" text-anchor="middle" textLength="17" lengthAdjust="spacingAndGlyphs" font-size="3.1" font-weight="bold" fill="#1a1a1a">192.168.1.92</text>
<text x="727.0" y="365.90000000000003" text-anchor="middle" textLength="15" lengthAdjust="spacingAndGlyphs" font-size="3.1" font-weight="bold" fill="#1a1a1a">192.168.1.8</text>
<text x="727.0" y="369.1" text-anchor="middle" textLength="15" lengthAdjust="spacingAndGlyphs" font-size="3.1" font-weight="bold" fill="#1a1a1a">192.168.1.8</text>
<text x="720.3" y="410.40000000000003" text-anchor="middle" textLength="15" lengthAdjust="spacingAndGlyphs" font-size="3.1" font-weight="bold" fill="#1a1a1a">demo_1.4</text>
<text x="720.3" y="413.70000000000005" text-anchor="middle" textLength="15" lengthAdjust="spacingAndGlyphs" font-size="3.1" font-weight="bold" fill="#1a1a1a">192.168.1.4</text>
<text x="653.0" y="428.5" text-anchor="middle" textLength="23" lengthAdjust="spacingAndGlyphs" font-size="3.1" font-weight="bold" fill="#1a1a1a">oracleSJKJH</text>
<text x="653.0" y="431.5" text-anchor="middle" textLength="15" lengthAdjust="spacingAndGlyphs" font-size="3.1" font-weight="bold" fill="#1a1a1a">192.168.1.57</text></g>
</svg>

<!-- right controls -->
<div class="btn" style="left:794.5px;top:314.5px;width:14.5px;height:15px"></div>
<svg class="a" style="left:796px;top:316px" width="12" height="12"><rect x="1.3" y="1.3" width="9.4" height="9.4" stroke="#555" stroke-width="0.9" fill="none"/><path d="M7,5 L9.6,2.4 M5,7 L2.4,9.6" stroke="#3b6ae8" stroke-width="1.1"/><path d="M6.4,2.6 L9.4,2.6 L9.4,5.6 Z M2.6,6.4 L2.6,9.4 L5.6,9.4 Z" fill="#3b6ae8"/></svg>
<div class="btn" style="left:794.5px;top:335px;width:14.5px;height:14px"></div>
<svg class="a" style="left:796px;top:336px" width="12" height="13"><rect x="3.4" y="3" width="5.2" height="2.4" rx="0.6" stroke="#666" stroke-width="0.9" fill="none"/><rect x="1.6" y="6.6" width="8.8" height="2.6" rx="0.6" stroke="#666" stroke-width="0.9" fill="none"/><path d="M6,0.6 V3 M6,9.2 V11.8" stroke="#3b6ae8" stroke-width="0.9"/></svg>
<div class="btn" style="left:794.5px;top:355px;width:14.5px;height:14px"></div>
<svg class="a" style="left:796px;top:356px" width="12" height="12"><circle cx="6" cy="6" r="4.6" stroke="#555" stroke-width="0.9" fill="none"/><path d="M3,6 H9 M6,3 V9" stroke="#3b6ae8" stroke-width="0.8"/></svg>
<div class="btn" style="left:794.5px;top:376px;width:14.5px;height:82px"></div>
<div class="a" style="left:801px;top:380px;width:1px;height:70px;background:#d9dce1"></div>
<div class="a" style="left:798.7px;top:447.5px;width:5.5px;height:5.5px;border-radius:50%;background:#2f6fe8"></div>
<div class="btn" style="left:794.5px;top:465.5px;width:14.5px;height:15px"></div>
<svg class="a" style="left:796px;top:467px" width="12" height="12"><circle cx="6" cy="6" r="4.6" stroke="#555" stroke-width="0.9" fill="none"/><path d="M3.6,6 H8.4" stroke="#3b6ae8" stroke-width="1"/></svg>

<div class="a" style="left:829px;top:0;width:1px;height:506px;background:#111"></div>
<div class="a" style="left:0;top:505px;width:830px;height:1px;background:#111"></div>
</body></html>
